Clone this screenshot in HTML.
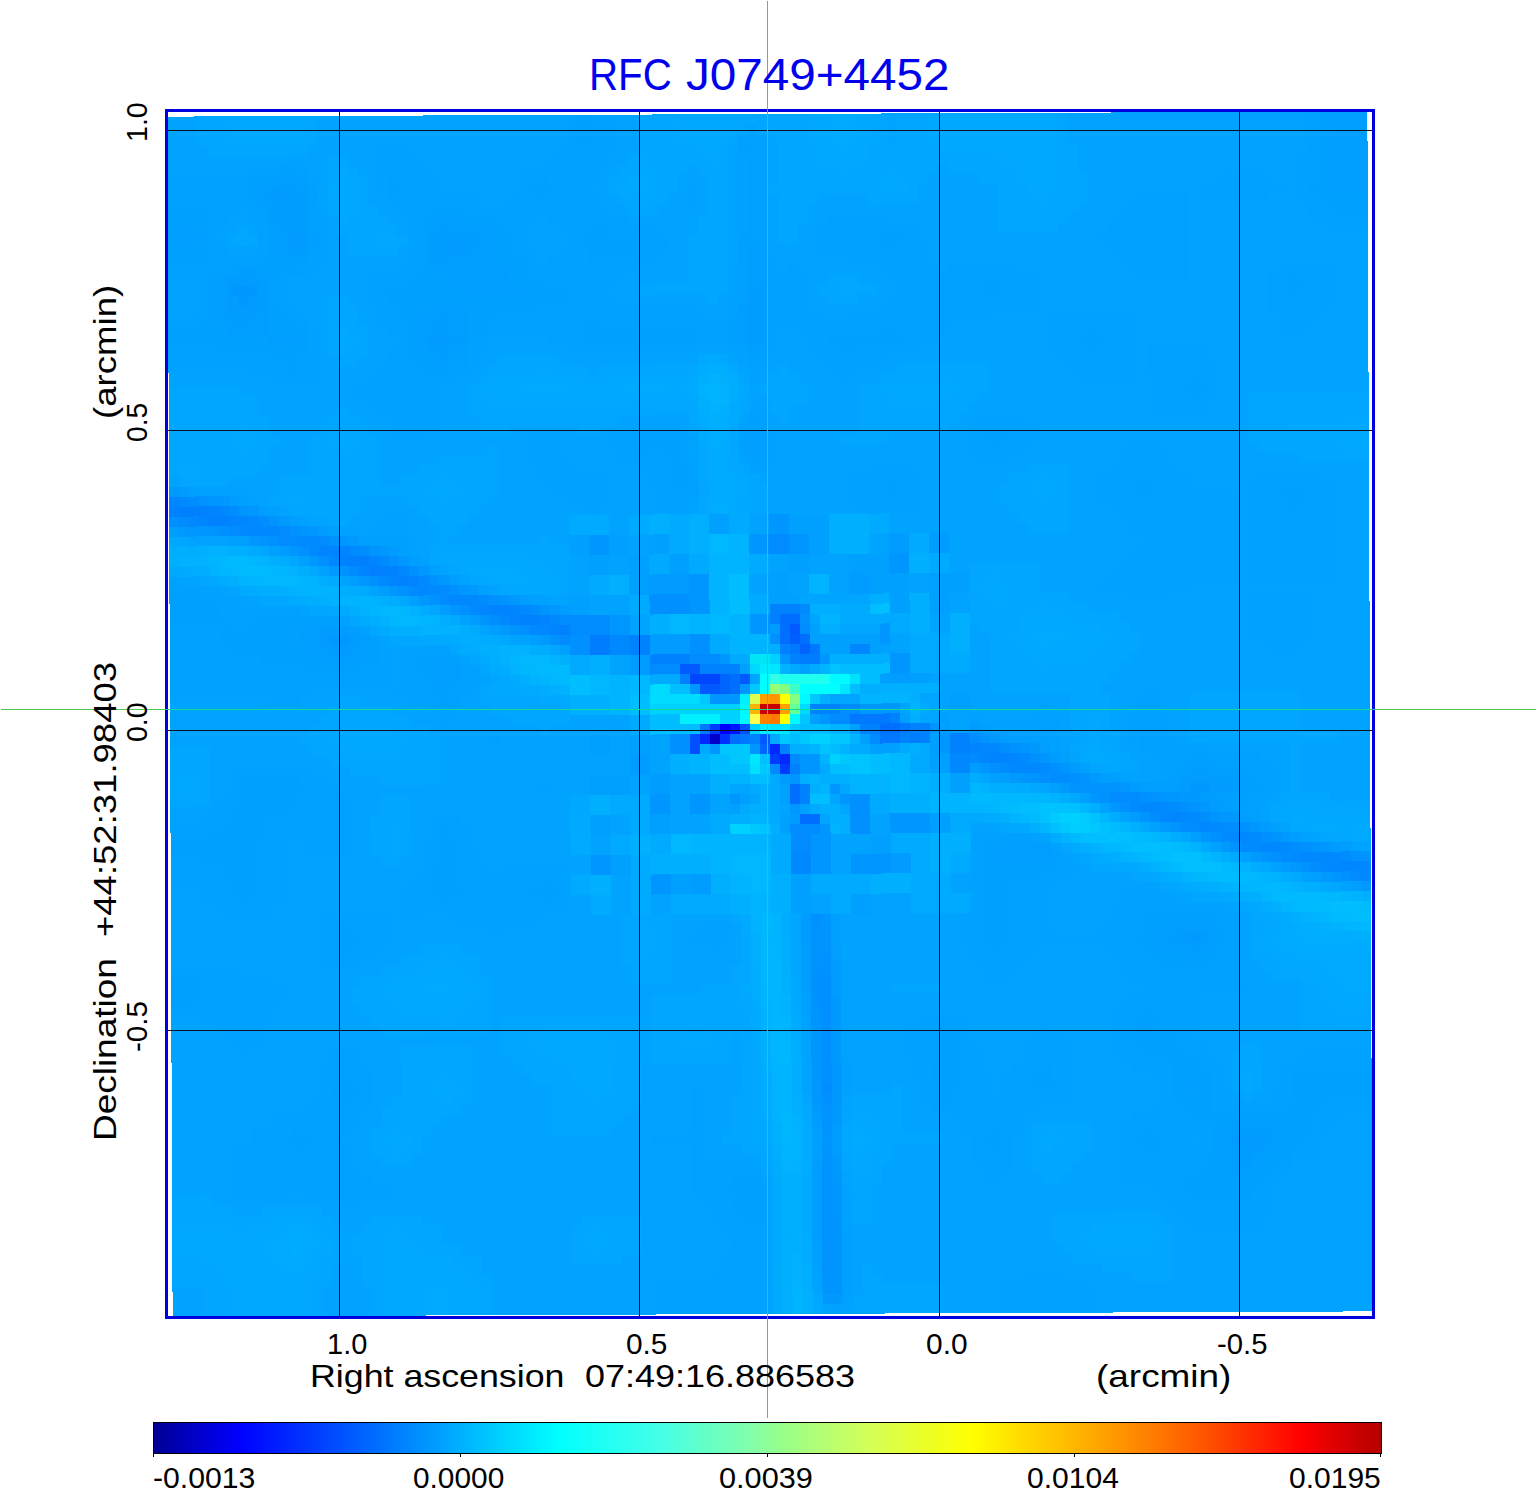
<!DOCTYPE html>
<html><head><meta charset="utf-8"><style>
html,body{margin:0;padding:0;background:#fff;width:1536px;height:1511px;overflow:hidden;}
body{position:relative;font-family:"Liberation Sans",sans-serif;}
.t{position:absolute;white-space:pre;line-height:1;color:#000;transform-origin:0 0;}
.g{position:absolute;background:#0a0f1e;}
</style></head><body>

<div style="position:absolute;left:165px;top:109px;width:1204px;height:1204px;border:3px solid #0000dc;background:#fff;overflow:hidden;">
<svg width="1204" height="1204" style="position:absolute;left:0;top:0" shape-rendering="crispEdges">
<g transform="rotate(-0.25 602 602)">
<rect x="2" y="2" width="1200" height="1200" fill="#00a4ff"/>
<path fill="#00a6ff" d="M32 2h30v10h-30zM142 2h10v10h-10zM472 2h40v10h-40zM592 2h50v10h-50zM712 2h10v10h-10zM732 2h30v10h-30zM892 2h10v10h-10zM32 12h30v10h-30zM142 12h10v10h-10zM472 12h40v10h-40zM572 12h10v10h-10zM592 12h50v10h-50zM712 12h10v10h-10zM732 12h30v10h-30zM892 12h10v10h-10zM32 22h30v10h-30zM142 22h10v10h-10zM472 22h40v10h-40zM562 22h10v10h-10zM612 22h30v10h-30zM712 22h10v10h-10zM732 22h30v10h-30zM892 22h10v10h-10zM42 32h100v10h-100zM472 32h60v10h-60zM552 32h10v10h-10zM612 32h40v10h-40zM702 32h70v10h-70zM892 32h20v10h-20zM162 42h20v10h-20zM462 42h10v10h-10zM482 42h60v10h-60zM552 42h10v10h-10zM612 42h40v10h-40zM702 42h130v10h-130zM892 42h20v10h-20zM162 52h10v10h-10zM182 52h10v10h-10zM452 52h20v10h-20zM492 52h30v10h-30zM532 52h30v10h-30zM612 52h60v10h-60zM682 52h90v10h-90zM782 52h70v10h-70zM892 52h20v10h-20zM162 62h10v10h-10zM192 62h10v10h-10zM442 62h20v10h-20zM492 62h20v10h-20zM542 62h20v10h-20zM612 62h100v10h-100zM732 62h30v10h-30zM812 62h40v10h-40zM892 62h30v10h-30zM192 72h10v10h-10zM442 72h10v10h-10zM492 72h20v10h-20zM542 72h20v10h-20zM602 72h110v10h-110zM742 72h10v10h-10zM832 72h30v10h-30zM892 72h30v10h-30zM162 82h10v10h-10zM192 82h10v10h-10zM452 82h20v10h-20zM482 82h20v10h-20zM542 82h20v10h-20zM612 82h40v10h-40zM702 82h50v10h-50zM832 82h40v10h-40zM882 82h40v10h-40zM162 92h10v10h-10zM192 92h20v10h-20zM462 92h30v10h-30zM542 92h20v10h-20zM612 92h30v10h-30zM832 92h80v10h-80zM182 102h40v10h-40zM532 102h30v10h-30zM612 102h30v10h-30zM832 102h70v10h-70zM72 112h10v10h-10zM172 112h60v10h-60zM532 112h30v10h-30zM612 112h20v10h-20zM832 112h60v10h-60zM62 122h10v10h-10zM82 122h10v10h-10zM182 122h30v10h-30zM232 122h10v10h-10zM522 122h40v10h-40zM612 122h20v10h-20zM182 132h50v10h-50zM522 132h40v10h-40zM522 142h40v10h-40zM522 152h40v10h-40zM522 162h40v10h-40zM662 162h30v10h-30zM472 172h90v10h-90zM652 172h20v10h-20zM692 172h20v10h-20zM162 182h20v10h-20zM542 182h10v10h-10zM662 182h30v10h-30zM162 192h30v10h-30zM162 202h30v10h-30zM162 212h10v10h-10zM182 212h20v10h-20zM162 222h10v10h-10zM192 222h10v10h-10zM162 232h10v10h-10zM182 232h20v10h-20zM172 242h20v10h-20zM332 242h60v10h-60zM322 252h50v10h-50zM382 252h40v10h-40zM432 252h90v10h-90zM612 252h10v10h-10zM732 252h90v10h-90zM312 262h10v10h-10zM412 262h30v10h-30zM572 262h10v10h-10zM602 262h30v10h-30zM712 262h60v10h-60zM782 262h40v10h-40zM2 272h70v10h-70zM302 272h10v10h-10zM592 272h50v10h-50zM692 272h20v10h-20zM792 272h30v10h-30zM2 282h90v10h-90zM302 282h20v10h-20zM572 282h10v10h-10zM602 282h40v10h-40zM692 282h30v10h-30zM782 282h30v10h-30zM1082 282h120v10h-120zM2 292h90v10h-90zM172 292h10v10h-10zM302 292h220v10h-220zM572 292h10v10h-10zM602 292h20v10h-20zM692 292h110v10h-110zM1082 292h120v10h-120zM2 302h100v10h-100zM162 302h30v10h-30zM312 302h140v10h-140zM612 302h10v10h-10zM692 302h100v10h-100zM1082 302h120v10h-120zM2 312h70v10h-70zM82 312h20v10h-20zM152 312h20v10h-20zM182 312h20v10h-20zM312 312h30v10h-30zM412 312h20v10h-20zM522 312h10v10h-10zM692 312h90v10h-90zM1082 312h40v10h-40zM2 322h60v10h-60zM92 322h20v10h-20zM142 322h20v10h-20zM192 322h20v10h-20zM562 322h10v10h-10zM672 322h50v10h-50zM1082 322h30v10h-30zM2 332h70v10h-70zM82 332h20v10h-20zM142 332h30v10h-30zM182 332h30v10h-30zM322 332h10v10h-10zM562 332h10v10h-10zM1092 332h80v10h-80zM2 342h100v10h-100zM142 342h70v10h-70zM272 342h60v10h-60zM1132 342h70v10h-70zM2 352h10v10h-10zM32 352h60v10h-60zM142 352h70v10h-70zM252 352h80v10h-80zM572 352h10v10h-10zM862 352h40v10h-40zM12 362h50v10h-50zM112 362h100v10h-100zM232 362h40v10h-40zM282 362h50v10h-50zM582 362h10v10h-10zM842 362h30v10h-30zM882 362h20v10h-20zM112 372h150v10h-150zM292 372h40v10h-40zM532 372h10v10h-10zM582 372h20v10h-20zM832 372h30v10h-30zM892 372h10v10h-10zM102 382h20v10h-20zM132 382h60v10h-60zM242 382h30v10h-30zM282 382h40v10h-40zM582 382h20v10h-20zM832 382h40v10h-40zM882 382h20v10h-20zM122 392h70v10h-70zM252 392h60v10h-60zM582 392h20v10h-20zM842 392h60v10h-60zM162 402h20v10h-20zM262 402h40v10h-40zM852 402h50v10h-50zM272 412h20v10h-20zM862 412h40v10h-40zM12 422h10v10h-10zM272 422h10v10h-10zM372 422h10v10h-10zM92 432h10v10h-10zM262 432h140v10h-140zM122 442h10v10h-10zM262 442h10v10h-10zM362 442h40v10h-40zM282 452h10v10h-10zM382 452h20v10h-20zM802 452h70v10h-70zM32 462h10v10h-10zM302 462h10v10h-10zM392 462h10v10h-10zM802 462h20v10h-20zM832 462h40v10h-40zM62 472h10v10h-10zM332 472h10v10h-10zM392 472h10v10h-10zM802 472h10v10h-10zM842 472h30v10h-30zM92 482h20v10h-20zM802 482h20v10h-20zM842 482h60v10h-60zM142 492h20v10h-20zM262 492h10v10h-10zM802 492h70v10h-70zM882 492h40v10h-40zM182 502h10v10h-10zM802 502h50v10h-50zM902 502h50v10h-50zM202 512h10v10h-10zM812 512h40v10h-40zM932 512h30v10h-30zM222 522h30v10h-30zM822 522h20v10h-20zM942 522h30v10h-30zM282 532h10v10h-10zM382 532h10v10h-10zM822 532h30v10h-30zM932 532h40v10h-40zM302 542h10v10h-10zM822 542h40v10h-40zM922 542h40v10h-40zM312 552h10v10h-10zM822 552h50v10h-50zM882 552h70v10h-70zM322 562h10v10h-10zM822 562h120v10h-120zM312 572h10v10h-10zM822 572h110v10h-110zM172 582h20v10h-20zM312 582h60v10h-60zM902 582h40v10h-40zM1022 582h110v10h-110zM162 592h60v10h-60zM322 592h80v10h-80zM902 592h40v10h-40zM1022 592h110v10h-110zM152 602h90v10h-90zM342 602h60v10h-60zM902 602h20v10h-20zM932 602h10v10h-10zM1022 602h110v10h-110zM142 612h30v10h-30zM222 612h40v10h-40zM372 612h10v10h-10zM902 612h20v10h-20zM932 612h10v10h-10zM1022 612h110v10h-110zM132 622h30v10h-30zM242 622h30v10h-30zM912 622h10v10h-10zM932 622h20v10h-20zM1022 622h150v10h-150zM2 632h40v10h-40zM142 632h30v10h-30zM232 632h40v10h-40zM902 632h10v10h-10zM942 632h10v10h-10zM1122 632h10v10h-10zM2 642h40v10h-40zM162 642h110v10h-110zM952 642h10v10h-10zM1122 642h10v10h-10zM2 652h40v10h-40zM182 652h90v10h-90zM922 652h20v10h-20zM952 652h20v10h-20zM1122 652h10v10h-10zM32 662h10v10h-10zM212 662h60v10h-60zM812 662h10v10h-10zM1122 662h10v10h-10zM32 672h10v10h-10zM872 672h10v10h-10zM1122 672h10v10h-10zM2 682h40v10h-40zM212 682h30v10h-30zM1112 682h50v10h-50zM212 692h30v10h-30zM1102 692h20v10h-20zM1152 692h50v10h-50zM202 702h40v10h-40zM1102 702h10v10h-10zM202 712h20v10h-20zM232 712h10v10h-10zM832 712h10v10h-10zM202 722h20v10h-20zM232 722h10v10h-10zM1012 722h10v10h-10zM1152 722h10v10h-10zM202 732h20v10h-20zM232 732h10v10h-10zM892 732h10v10h-10zM212 742h20v10h-20zM912 742h10v10h-10zM922 752h20v10h-20zM962 762h20v10h-20zM992 772h20v10h-20zM1162 772h10v10h-10zM1022 782h30v10h-30zM1072 792h10v10h-10zM452 802h50v10h-50zM562 802h10v10h-10zM622 802h10v10h-10zM1082 802h10v10h-10zM452 812h20v10h-20zM482 812h20v10h-20zM622 812h10v10h-10zM1082 812h20v10h-20zM452 822h20v10h-20zM482 822h20v10h-20zM622 822h10v10h-10zM1082 822h10v10h-10zM252 832h40v10h-40zM452 832h20v10h-20zM482 832h20v10h-20zM622 832h10v10h-10zM1082 832h10v10h-10zM232 842h40v10h-40zM282 842h30v10h-30zM452 842h50v10h-50zM622 842h10v10h-10zM1082 842h20v10h-20zM212 852h40v10h-40zM292 852h20v10h-20zM462 852h40v10h-40zM562 852h10v10h-10zM622 852h10v10h-10zM1092 852h20v10h-20zM192 862h30v10h-30zM302 862h20v10h-20zM462 862h40v10h-40zM562 862h10v10h-10zM1102 862h30v10h-30zM182 872h30v10h-30zM312 872h10v10h-10zM532 872h40v10h-40zM722 872h50v10h-50zM1132 872h20v10h-20zM182 882h40v10h-40zM302 882h20v10h-20zM482 882h90v10h-90zM1132 882h20v10h-20zM192 892h40v10h-40zM292 892h30v10h-30zM482 892h90v10h-90zM1132 892h30v10h-30zM202 902h70v10h-70zM282 902h40v10h-40zM332 902h140v10h-140zM482 902h100v10h-100zM1132 902h70v10h-70zM212 912h110v10h-110zM332 912h40v10h-40zM432 912h40v10h-40zM482 912h40v10h-40zM532 912h50v10h-50zM1132 912h70v10h-70zM332 922h30v10h-30zM442 922h30v10h-30zM482 922h30v10h-30zM542 922h20v10h-20zM572 922h10v10h-10zM232 932h70v10h-70zM332 932h40v10h-40zM442 932h30v10h-30zM482 932h80v10h-80zM572 932h10v10h-10zM1072 932h20v10h-20zM232 942h70v10h-70zM342 942h40v10h-40zM442 942h30v10h-30zM482 942h80v10h-80zM572 942h10v10h-10zM1062 942h30v10h-30zM232 952h70v10h-70zM352 952h50v10h-50zM442 952h30v10h-30zM572 952h10v10h-10zM1062 952h30v10h-30zM232 962h40v10h-40zM282 962h20v10h-20zM362 962h40v10h-40zM442 962h30v10h-30zM572 962h10v10h-10zM1062 962h10v10h-10zM1082 962h10v10h-10zM232 972h30v10h-30zM292 972h10v10h-10zM382 972h30v10h-30zM442 972h30v10h-30zM572 972h10v10h-10zM722 972h10v10h-10zM1062 972h10v10h-10zM1082 972h10v10h-10zM222 982h50v10h-50zM282 982h20v10h-20zM382 982h40v10h-40zM432 982h40v10h-40zM562 982h20v10h-20zM632 982h10v10h-10zM682 982h50v10h-50zM1072 982h10v10h-10zM212 992h80v10h-80zM382 992h80v10h-80zM562 992h20v10h-20zM682 992h50v10h-50zM212 1002h60v10h-60zM382 1002h70v10h-70zM562 1002h20v10h-20zM672 1002h10v10h-10zM702 1002h30v10h-30zM202 1012h20v10h-20zM232 1012h30v10h-30zM382 1012h60v10h-60zM562 1012h20v10h-20zM712 1012h20v10h-20zM862 1012h60v10h-60zM202 1022h10v10h-10zM242 1022h10v10h-10zM552 1022h30v10h-30zM712 1022h60v10h-60zM862 1022h10v10h-10zM892 1022h30v10h-30zM202 1032h20v10h-20zM232 1032h20v10h-20zM572 1032h20v10h-20zM712 1032h10v10h-10zM862 1032h10v10h-10zM882 1032h40v10h-40zM212 1042h30v10h-30zM592 1042h10v10h-10zM672 1042h10v10h-10zM702 1042h20v10h-20zM862 1042h50v10h-50zM592 1052h10v10h-10zM672 1052h10v10h-10zM702 1052h10v10h-10zM862 1052h40v10h-40zM682 1062h30v10h-30zM872 1062h20v10h-20zM682 1072h20v10h-20zM2 1082h40v10h-40zM682 1082h20v10h-20zM2 1092h60v10h-60zM92 1092h60v10h-60zM682 1092h20v10h-20zM2 1102h100v10h-100zM142 1102h20v10h-20zM202 1102h50v10h-50zM412 1102h60v10h-60zM682 1102h20v10h-20zM882 1102h110v10h-110zM62 1112h20v10h-20zM152 1112h20v10h-20zM192 1112h30v10h-30zM232 1112h40v10h-40zM402 1112h20v10h-20zM432 1112h40v10h-40zM882 1112h40v10h-40zM982 1112h20v10h-20zM162 1122h10v10h-10zM182 1122h30v10h-30zM242 1122h30v10h-30zM402 1122h10v10h-10zM442 1122h30v10h-30zM882 1122h30v10h-30zM992 1122h10v10h-10zM162 1132h10v10h-10zM182 1132h30v10h-30zM252 1132h40v10h-40zM402 1132h20v10h-20zM432 1132h40v10h-40zM892 1132h30v10h-30zM982 1132h20v10h-20zM2 1142h30v10h-30zM152 1142h20v10h-20zM192 1142h20v10h-20zM282 1142h30v10h-30zM402 1142h50v10h-50zM902 1142h100v10h-100zM2 1152h50v10h-50zM152 1152h10v10h-10zM192 1152h20v10h-20zM292 1152h20v10h-20zM692 1152h10v10h-10zM932 1152h70v10h-70zM2 1162h50v10h-50zM142 1162h20v10h-20zM192 1162h20v10h-20zM302 1162h20v10h-20zM692 1162h20v10h-20zM962 1162h40v10h-40zM32 1172h30v10h-30zM142 1172h10v10h-10zM202 1172h10v10h-10zM312 1172h10v10h-10zM692 1172h80v10h-80zM32 1182h30v10h-30zM142 1182h10v10h-10zM202 1182h10v10h-10zM312 1182h10v10h-10zM642 1182h10v10h-10zM682 1182h90v10h-90zM32 1192h30v10h-30zM142 1192h10v10h-10zM202 1192h10v10h-10zM312 1192h10v10h-10zM682 1192h90v10h-90z"/>
<path fill="#00a8ff" d="M62 2h80v10h-80zM512 2h80v10h-80zM642 2h20v10h-20zM692 2h20v10h-20zM762 2h130v10h-130zM62 12h80v10h-80zM512 12h60v10h-60zM642 12h20v10h-20zM692 12h20v10h-20zM762 12h130v10h-130zM62 22h80v10h-80zM512 22h50v10h-50zM642 22h20v10h-20zM692 22h20v10h-20zM762 22h130v10h-130zM532 32h20v10h-20zM652 32h20v10h-20zM682 32h20v10h-20zM772 32h120v10h-120zM472 42h10v10h-10zM542 42h10v10h-10zM652 42h50v10h-50zM832 42h60v10h-60zM172 52h10v10h-10zM472 52h20v10h-20zM672 52h10v10h-10zM852 52h40v10h-40zM172 62h20v10h-20zM462 62h10v10h-10zM482 62h10v10h-10zM712 62h20v10h-20zM852 62h40v10h-40zM162 72h10v10h-10zM182 72h10v10h-10zM452 72h20v10h-20zM482 72h10v10h-10zM712 72h30v10h-30zM862 72h30v10h-30zM172 82h20v10h-20zM472 82h10v10h-10zM872 82h10v10h-10zM172 92h20v10h-20zM172 102h10v10h-10zM72 122h10v10h-10zM212 122h20v10h-20zM672 172h20v10h-20zM172 212h10v10h-10zM172 222h20v10h-20zM172 232h10v10h-10zM532 242h10v10h-10zM552 242h10v10h-10zM372 252h10v10h-10zM522 252h10v10h-10zM562 252h10v10h-10zM322 262h90v10h-90zM442 262h80v10h-80zM772 262h10v10h-10zM312 272h40v10h-40zM402 272h50v10h-50zM502 272h10v10h-10zM572 272h10v10h-10zM712 272h80v10h-80zM322 282h200v10h-200zM722 282h60v10h-60zM522 292h10v10h-10zM522 302h10v10h-10zM72 312h10v10h-10zM172 312h10v10h-10zM562 312h10v10h-10zM1122 312h80v10h-80zM62 322h30v10h-30zM162 322h30v10h-30zM1112 322h90v10h-90zM72 332h10v10h-10zM172 332h10v10h-10zM532 332h10v10h-10zM1172 332h30v10h-30zM532 342h10v10h-10zM562 342h10v10h-10zM12 352h20v10h-20zM532 352h10v10h-10zM562 352h10v10h-10zM272 362h10v10h-10zM532 362h10v10h-10zM572 362h10v10h-10zM872 362h10v10h-10zM262 372h30v10h-30zM862 372h30v10h-30zM122 382h10v10h-10zM272 382h10v10h-10zM532 382h10v10h-10zM572 382h10v10h-10zM872 382h10v10h-10zM532 392h10v10h-10zM572 392h10v10h-10zM2 422h10v10h-10zM272 442h90v10h-90zM2 452h10v10h-10zM142 452h10v10h-10zM292 452h10v10h-10zM352 452h30v10h-30zM42 462h10v10h-10zM312 462h10v10h-10zM362 462h30v10h-30zM822 462h10v10h-10zM342 472h50v10h-50zM812 472h30v10h-30zM112 482h10v10h-10zM232 482h10v10h-10zM822 482h20v10h-20zM162 492h10v10h-10zM872 492h10v10h-10zM852 502h50v10h-50zM852 512h80v10h-80zM252 522h20v10h-20zM332 522h10v10h-10zM842 522h20v10h-20zM902 522h40v10h-40zM852 532h20v10h-20zM882 532h50v10h-50zM862 542h60v10h-60zM872 552h10v10h-10zM332 562h10v10h-10zM322 572h30v10h-30zM372 582h20v10h-20zM922 602h10v10h-10zM172 612h50v10h-50zM922 612h10v10h-10zM162 622h80v10h-80zM922 622h10v10h-10zM172 632h60v10h-60zM912 632h10v10h-10zM932 632h10v10h-10zM912 642h10v10h-10zM942 642h10v10h-10zM942 652h10v10h-10zM2 662h30v10h-30zM2 672h30v10h-30zM862 672h10v10h-10zM402 682h20v10h-20zM902 682h10v10h-10zM402 692h20v10h-20zM1122 692h30v10h-30zM1112 702h10v10h-10zM1142 702h60v10h-60zM222 712h10v10h-10zM842 712h10v10h-10zM972 712h10v10h-10zM1122 712h20v10h-20zM1172 712h10v10h-10zM222 722h10v10h-10zM1162 722h20v10h-20zM222 732h10v10h-10zM1062 742h10v10h-10zM942 752h20v10h-20zM1092 752h10v10h-10zM982 762h10v10h-10zM1122 762h10v10h-10zM1052 782h10v10h-10zM1082 792h10v10h-10zM1092 802h10v10h-10zM472 812h10v10h-10zM1102 812h10v10h-10zM472 822h10v10h-10zM572 822h10v10h-10zM1092 822h10v10h-10zM472 832h10v10h-10zM572 832h10v10h-10zM1092 832h20v10h-20zM272 842h10v10h-10zM572 842h10v10h-10zM1102 842h20v10h-20zM252 852h40v10h-40zM572 852h10v10h-10zM1112 852h40v10h-40zM222 862h80v10h-80zM572 862h10v10h-10zM622 862h10v10h-10zM1132 862h30v10h-30zM212 872h40v10h-40zM282 872h30v10h-30zM622 872h10v10h-10zM1152 872h20v10h-20zM222 882h80v10h-80zM572 882h10v10h-10zM622 882h10v10h-10zM1152 882h50v10h-50zM232 892h60v10h-60zM572 892h10v10h-10zM1162 892h40v10h-40zM272 902h10v10h-10zM372 912h60v10h-60zM522 912h10v10h-10zM362 922h80v10h-80zM512 922h30v10h-30zM372 932h70v10h-70zM582 932h10v10h-10zM382 942h60v10h-60zM582 942h10v10h-10zM402 952h40v10h-40zM582 952h10v10h-10zM272 962h10v10h-10zM402 962h40v10h-40zM582 962h10v10h-10zM1072 962h10v10h-10zM262 972h30v10h-30zM412 972h30v10h-30zM582 972h10v10h-10zM1072 972h10v10h-10zM272 982h10v10h-10zM422 982h10v10h-10zM582 982h10v10h-10zM582 992h10v10h-10zM632 992h10v10h-10zM582 1002h10v10h-10zM682 1002h20v10h-20zM222 1012h10v10h-10zM582 1012h10v10h-10zM672 1012h10v10h-10zM692 1012h20v10h-20zM212 1022h30v10h-30zM582 1022h10v10h-10zM672 1022h10v10h-10zM702 1022h10v10h-10zM872 1022h20v10h-20zM222 1032h10v10h-10zM592 1032h10v10h-10zM672 1032h10v10h-10zM692 1032h20v10h-20zM872 1032h10v10h-10zM682 1042h20v10h-20zM682 1052h20v10h-20zM602 1072h10v10h-10zM602 1082h10v10h-10zM602 1092h10v10h-10zM102 1102h40v10h-40zM602 1102h10v10h-10zM2 1112h60v10h-60zM82 1112h30v10h-30zM142 1112h10v10h-10zM222 1112h10v10h-10zM422 1112h10v10h-10zM602 1112h10v10h-10zM922 1112h60v10h-60zM2 1122h90v10h-90zM152 1122h10v10h-10zM212 1122h30v10h-30zM412 1122h30v10h-30zM602 1122h10v10h-10zM912 1122h80v10h-80zM2 1132h90v10h-90zM142 1132h20v10h-20zM212 1132h40v10h-40zM422 1132h10v10h-10zM602 1132h10v10h-10zM922 1132h60v10h-60zM32 1142h70v10h-70zM142 1142h10v10h-10zM212 1142h70v10h-70zM602 1142h10v10h-10zM52 1152h60v10h-60zM132 1152h20v10h-20zM212 1152h80v10h-80zM52 1162h90v10h-90zM212 1162h90v10h-90zM62 1172h80v10h-80zM212 1172h40v10h-40zM282 1172h30v10h-30zM62 1182h80v10h-80zM212 1182h40v10h-40zM282 1182h30v10h-30zM62 1192h80v10h-80zM212 1192h40v10h-40zM282 1192h30v10h-30zM642 1192h10v10h-10z"/>
<path fill="#00a2ff" d="M402 2h10v10h-10zM432 2h20v10h-20zM1142 2h10v10h-10zM402 12h10v10h-10zM432 12h20v10h-20zM1142 12h10v10h-10zM402 22h10v10h-10zM432 22h20v10h-20zM572 22h30v10h-30zM1142 22h10v10h-10zM212 32h30v10h-30zM392 32h30v10h-30zM432 32h20v10h-20zM592 32h10v10h-10zM1142 32h10v10h-10zM122 42h10v10h-10zM212 42h40v10h-40zM382 42h60v10h-60zM572 42h10v10h-10zM592 42h10v10h-10zM1132 42h20v10h-20zM82 52h30v10h-30zM132 52h10v10h-10zM212 52h50v10h-50zM352 52h80v10h-80zM572 52h10v10h-10zM592 52h10v10h-10zM1132 52h20v10h-20zM2 62h80v10h-80zM142 62h10v10h-10zM212 62h10v10h-10zM232 62h40v10h-40zM352 62h20v10h-20zM382 62h50v10h-50zM572 62h10v10h-10zM592 62h10v10h-10zM1052 62h50v10h-50zM1132 62h20v10h-20zM2 72h50v10h-50zM212 72h10v10h-10zM242 72h30v10h-30zM352 72h10v10h-10zM392 72h30v10h-30zM522 72h10v10h-10zM572 72h10v10h-10zM592 72h10v10h-10zM1032 72h90v10h-90zM1132 72h10v10h-10zM2 82h80v10h-80zM222 82h90v10h-90zM342 82h30v10h-30zM382 82h50v10h-50zM522 82h10v10h-10zM572 82h10v10h-10zM592 82h10v10h-10zM972 82h50v10h-50zM1032 82h70v10h-70zM1132 82h20v10h-20zM42 92h30v10h-30zM82 92h10v10h-10zM152 92h10v10h-10zM232 92h30v10h-30zM302 92h140v10h-140zM572 92h10v10h-10zM592 92h10v10h-10zM962 92h60v10h-60zM1142 92h20v10h-20zM42 102h20v10h-20zM82 102h10v10h-10zM152 102h10v10h-10zM242 102h10v10h-10zM332 102h40v10h-40zM382 102h80v10h-80zM572 102h10v10h-10zM592 102h10v10h-10zM662 102h60v10h-60zM952 102h70v10h-70zM1142 102h30v10h-30zM42 112h10v10h-10zM92 112h10v10h-10zM152 112h10v10h-10zM242 112h10v10h-10zM342 112h20v10h-20zM392 112h30v10h-30zM442 112h50v10h-50zM572 112h10v10h-10zM592 112h10v10h-10zM652 112h100v10h-100zM942 112h80v10h-80zM1162 112h40v10h-40zM42 122h10v10h-10zM92 122h10v10h-10zM242 122h10v10h-10zM352 122h10v10h-10zM402 122h10v10h-10zM482 122h20v10h-20zM592 122h10v10h-10zM652 122h20v10h-20zM742 122h10v10h-10zM932 122h90v10h-90zM42 132h20v10h-20zM92 132h10v10h-10zM152 132h10v10h-10zM242 132h10v10h-10zM352 132h20v10h-20zM392 132h30v10h-30zM472 132h30v10h-30zM652 132h60v10h-60zM732 132h30v10h-30zM942 132h80v10h-80zM42 142h50v10h-50zM142 142h20v10h-20zM242 142h10v10h-10zM362 142h10v10h-10zM382 142h40v10h-40zM432 142h60v10h-60zM602 142h10v10h-10zM682 142h80v10h-80zM952 142h70v10h-70zM2 152h40v10h-40zM132 152h20v10h-20zM232 152h20v10h-20zM362 152h110v10h-110zM562 152h10v10h-10zM602 152h10v10h-10zM622 152h10v10h-10zM712 152h60v10h-60zM782 152h70v10h-70zM962 152h60v10h-60zM1112 152h60v10h-60zM32 162h10v10h-10zM112 162h10v10h-10zM202 162h40v10h-40zM382 162h70v10h-70zM562 162h10v10h-10zM602 162h40v10h-40zM722 162h100v10h-100zM832 162h40v10h-40zM972 162h50v10h-50zM1102 162h20v10h-20zM1132 162h40v10h-40zM32 172h10v10h-10zM112 172h10v10h-10zM202 172h10v10h-10zM402 172h40v10h-40zM562 172h10v10h-10zM612 172h10v10h-10zM632 172h10v10h-10zM732 172h70v10h-70zM842 172h30v10h-30zM1102 172h10v10h-10zM1142 172h30v10h-30zM32 182h10v10h-10zM112 182h10v10h-10zM202 182h20v10h-20zM402 182h50v10h-50zM562 182h10v10h-10zM602 182h40v10h-40zM722 182h100v10h-100zM832 182h40v10h-40zM1102 182h20v10h-20zM1132 182h40v10h-40zM32 192h10v10h-10zM122 192h10v10h-10zM212 192h20v10h-20zM372 192h160v10h-160zM562 192h10v10h-10zM602 192h40v10h-40zM712 192h160v10h-160zM1102 192h60v10h-60zM2 202h30v10h-30zM132 202h10v10h-10zM212 202h20v10h-20zM332 202h80v10h-80zM432 202h110v10h-110zM602 202h60v10h-60zM682 202h140v10h-140zM882 202h90v10h-90zM1112 202h40v10h-40zM142 212h10v10h-10zM222 212h20v10h-20zM322 212h90v10h-90zM532 212h30v10h-30zM602 212h10v10h-10zM632 212h80v10h-80zM732 212h50v10h-50zM882 212h40v10h-40zM932 212h40v10h-40zM1112 212h30v10h-30zM142 222h10v10h-10zM232 222h10v10h-10zM312 222h10v10h-10zM382 222h30v10h-30zM532 222h30v10h-30zM602 222h10v10h-10zM642 222h20v10h-20zM742 222h30v10h-30zM882 222h30v10h-30zM942 222h30v10h-30zM2 232h50v10h-50zM142 232h10v10h-10zM222 232h20v10h-20zM302 232h20v10h-20zM402 232h130v10h-130zM562 232h10v10h-10zM602 232h10v10h-10zM642 232h30v10h-30zM692 232h60v10h-60zM882 232h40v10h-40zM932 232h40v10h-40zM982 232h60v10h-60zM2 242h100v10h-100zM132 242h20v10h-20zM222 242h20v10h-20zM302 242h10v10h-10zM572 242h10v10h-10zM592 242h10v10h-10zM652 242h70v10h-70zM892 242h80v10h-80zM982 242h60v10h-60zM82 252h40v10h-40zM132 252h20v10h-20zM212 252h40v10h-40zM282 252h20v10h-20zM582 252h20v10h-20zM662 252h30v10h-30zM902 252h70v10h-70zM982 252h70v10h-70zM102 262h50v10h-50zM202 262h90v10h-90zM582 262h10v10h-10zM672 262h10v10h-10zM912 262h60v10h-60zM982 262h40v10h-40zM1032 262h20v10h-20zM182 272h90v10h-90zM982 272h30v10h-30zM1042 272h10v10h-10zM202 282h70v10h-70zM982 282h40v10h-40zM1032 282h20v10h-20zM212 292h60v10h-60zM582 292h20v10h-20zM982 292h60v10h-60zM222 302h50v10h-50zM592 302h10v10h-10zM812 302h40v10h-40zM222 312h50v10h-50zM462 312h50v10h-50zM572 312h10v10h-10zM802 312h20v10h-20zM832 312h40v10h-40zM362 322h30v10h-30zM442 322h20v10h-20zM512 322h10v10h-10zM602 322h10v10h-10zM802 322h10v10h-10zM842 322h30v10h-30zM362 332h30v10h-30zM452 332h20v10h-20zM512 332h10v10h-10zM602 332h10v10h-10zM802 332h20v10h-20zM832 332h30v10h-30zM962 332h30v10h-30zM362 342h40v10h-40zM452 342h50v10h-50zM512 342h20v10h-20zM572 342h10v10h-10zM602 342h10v10h-10zM812 342h30v10h-30zM952 342h50v10h-50zM372 352h40v10h-40zM472 352h30v10h-30zM522 352h10v10h-10zM582 352h20v10h-20zM702 352h40v10h-40zM942 352h70v10h-70zM372 362h70v10h-70zM482 362h20v10h-20zM522 362h10v10h-10zM682 362h40v10h-40zM732 362h20v10h-20zM932 362h40v10h-40zM982 362h40v10h-40zM1092 362h60v10h-60zM32 372h50v10h-50zM382 372h60v10h-60zM492 372h10v10h-10zM682 372h30v10h-30zM742 372h10v10h-10zM932 372h30v10h-30zM992 372h30v10h-30zM1082 372h30v10h-30zM1142 372h30v10h-30zM82 382h10v10h-10zM402 382h40v10h-40zM492 382h40v10h-40zM682 382h40v10h-40zM732 382h20v10h-20zM932 382h40v10h-40zM982 382h90v10h-90zM1082 382h30v10h-30zM1142 382h30v10h-30zM422 392h10v10h-10zM492 392h30v10h-30zM692 392h60v10h-60zM942 392h130v10h-130zM1082 392h40v10h-40zM1132 392h40v10h-40zM132 402h10v10h-10zM212 402h30v10h-30zM952 402h120v10h-120zM1082 402h90v10h-90zM172 412h20v10h-20zM202 412h40v10h-40zM962 412h110v10h-110zM1082 412h90v10h-90zM242 422h10v10h-10zM982 422h90v10h-90zM1082 422h90v10h-90zM242 432h10v10h-10zM972 432h100v10h-100zM1082 432h90v10h-90zM252 442h10v10h-10zM962 442h110v10h-110zM1082 442h90v10h-90zM152 452h10v10h-10zM952 452h120v10h-120zM1082 452h90v10h-90zM2 462h20v10h-20zM292 462h10v10h-10zM942 462h130v10h-130zM1082 462h90v10h-90zM32 472h20v10h-20zM932 472h90v10h-90zM52 482h20v10h-20zM372 482h10v10h-10zM962 482h40v10h-40zM1082 482h60v10h-60zM52 492h80v10h-80zM1082 492h60v10h-60zM62 502h20v10h-20zM172 502h10v10h-10zM292 502h10v10h-10zM1082 502h60v10h-60zM2 512h50v10h-50zM192 512h10v10h-10zM1082 512h60v10h-60zM2 522h50v10h-50zM352 522h10v10h-10zM1082 522h60v10h-60zM2 532h60v10h-60zM212 532h10v10h-10zM232 532h50v10h-50zM1102 532h30v10h-30zM2 542h90v10h-90zM212 542h10v10h-10zM232 542h10v10h-10zM2 552h130v10h-130zM192 552h30v10h-30zM232 552h10v10h-10zM302 552h10v10h-10zM2 562h220v10h-220zM232 562h20v10h-20zM292 562h20v10h-20zM2 572h140v10h-140zM222 572h40v10h-40zM282 572h20v10h-20zM102 582h30v10h-30zM242 582h30v10h-30zM282 582h10v10h-10zM972 582h20v10h-20zM262 592h30v10h-30zM872 592h10v10h-10zM962 592h30v10h-30zM272 602h10v10h-10zM802 602h10v10h-10zM862 602h30v10h-30zM962 602h40v10h-40zM822 612h50v10h-50zM882 612h10v10h-10zM962 612h10v10h-10zM982 612h20v10h-20zM322 622h10v10h-10zM882 622h10v10h-10zM962 622h10v10h-10zM982 622h20v10h-20zM882 632h10v10h-10zM972 632h70v10h-70zM982 642h40v10h-40zM1042 642h50v10h-50zM62 652h80v10h-80zM992 652h10v10h-10zM1082 652h20v10h-20zM62 662h10v10h-10zM132 662h30v10h-30zM952 662h10v10h-10zM992 662h10v10h-10zM1092 662h20v10h-20zM62 672h10v10h-10zM142 672h30v10h-30zM372 672h10v10h-10zM1102 672h10v10h-10zM52 682h20v10h-20zM132 682h50v10h-50zM1082 682h20v10h-20zM42 692h20v10h-20zM122 692h60v10h-60zM932 692h10v10h-10zM1082 692h10v10h-10zM32 702h30v10h-30zM102 702h80v10h-80zM262 702h30v10h-30zM2 712h40v10h-40zM102 712h80v10h-80zM262 712h10v10h-10zM282 712h20v10h-20zM982 712h10v10h-10zM92 722h30v10h-30zM132 722h50v10h-50zM262 722h10v10h-10zM292 722h10v10h-10zM802 722h10v10h-10zM862 722h10v10h-10zM1132 722h10v10h-10zM92 732h30v10h-30zM132 732h50v10h-50zM252 732h20v10h-20zM292 732h20v10h-20zM802 732h10v10h-10zM882 732h10v10h-10zM1042 732h10v10h-10zM1182 732h10v10h-10zM2 742h30v10h-30zM92 742h30v10h-30zM252 742h20v10h-20zM292 742h20v10h-20zM802 742h10v10h-10zM892 742h10v10h-10zM2 752h50v10h-50zM92 752h30v10h-30zM252 752h10v10h-10zM292 752h30v10h-30zM332 752h70v10h-70zM802 752h10v10h-10zM892 752h20v10h-20zM1102 752h10v10h-10zM2 762h50v10h-50zM92 762h30v10h-30zM242 762h20v10h-20zM292 762h80v10h-80zM382 762h20v10h-20zM802 762h10v10h-10zM872 762h30v10h-30zM1132 762h10v10h-10zM32 772h30v10h-30zM92 772h30v10h-30zM232 772h30v10h-30zM302 772h50v10h-50zM392 772h10v10h-10zM802 772h10v10h-10zM842 772h40v10h-40zM972 772h10v10h-10zM1172 772h10v10h-10zM32 782h40v10h-40zM82 782h40v10h-40zM232 782h40v10h-40zM282 782h90v10h-90zM382 782h20v10h-20zM802 782h10v10h-10zM842 782h40v10h-40zM952 782h50v10h-50zM52 792h50v10h-50zM232 792h170v10h-170zM802 792h10v10h-10zM842 792h40v10h-40zM942 792h110v10h-110zM152 802h70v10h-70zM282 802h90v10h-90zM792 802h20v10h-20zM842 802h40v10h-40zM942 802h30v10h-30zM1052 802h20v10h-20zM152 812h20v10h-20zM182 812h40v10h-40zM322 812h10v10h-10zM532 812h30v10h-30zM792 812h20v10h-20zM842 812h40v10h-40zM932 812h40v10h-40zM1052 812h20v10h-20zM152 822h10v10h-10zM192 822h30v10h-30zM522 822h40v10h-40zM792 822h20v10h-20zM842 822h120v10h-120zM1062 822h10v10h-10zM152 832h20v10h-20zM182 832h30v10h-30zM542 832h10v10h-10zM802 832h20v10h-20zM832 832h40v10h-40zM932 832h40v10h-40zM1052 832h20v10h-20zM152 842h40v10h-40zM802 842h60v10h-60zM942 842h40v10h-40zM1052 842h20v10h-20zM2 852h70v10h-70zM672 852h10v10h-10zM812 852h40v10h-40zM952 852h40v10h-40zM1042 852h30v10h-30zM32 862h70v10h-70zM672 862h10v10h-10zM812 862h30v10h-30zM962 862h110v10h-110zM52 872h70v10h-70zM672 872h10v10h-10zM972 872h110v10h-110zM32 882h80v10h-80zM672 882h10v10h-10zM962 882h70v10h-70zM2 892h100v10h-100zM672 892h10v10h-10zM952 892h20v10h-20zM982 892h50v10h-50zM32 902h70v10h-70zM632 902h10v10h-10zM672 902h10v10h-10zM752 902h50v10h-50zM942 902h20v10h-20zM992 902h40v10h-40zM52 912h40v10h-40zM632 912h10v10h-10zM672 912h10v10h-10zM732 912h40v10h-40zM782 912h20v10h-20zM872 912h10v10h-10zM942 912h20v10h-20zM1002 912h30v10h-30zM62 922h30v10h-30zM672 922h10v10h-10zM732 922h30v10h-30zM792 922h10v10h-10zM862 922h30v10h-30zM942 922h10v10h-10zM1012 922h10v10h-10zM72 932h10v10h-10zM162 932h30v10h-30zM672 932h10v10h-10zM732 932h30v10h-30zM792 932h20v10h-20zM852 932h50v10h-50zM942 932h20v10h-20zM1012 932h30v10h-30zM162 942h30v10h-30zM672 942h10v10h-10zM742 942h20v10h-20zM792 942h20v10h-20zM852 942h50v10h-50zM952 942h20v10h-20zM1032 942h10v10h-10zM1132 942h70v10h-70zM152 952h50v10h-50zM672 952h10v10h-10zM742 952h20v10h-20zM792 952h20v10h-20zM842 952h30v10h-30zM882 952h20v10h-20zM962 952h40v10h-40zM1032 952h20v10h-20zM1112 952h90v10h-90zM152 962h20v10h-20zM182 962h20v10h-20zM672 962h10v10h-10zM742 962h20v10h-20zM792 962h30v10h-30zM832 962h30v10h-30zM882 962h20v10h-20zM982 962h20v10h-20zM1042 962h10v10h-10zM1112 962h10v10h-10zM152 972h10v10h-10zM192 972h10v10h-10zM522 972h10v10h-10zM672 972h10v10h-10zM752 972h20v10h-20zM792 972h30v10h-30zM832 972h30v10h-30zM892 972h10v10h-10zM992 972h10v10h-10zM1042 972h10v10h-10zM1112 972h10v10h-10zM142 982h30v10h-30zM182 982h20v10h-20zM522 982h10v10h-10zM752 982h20v10h-20zM782 982h120v10h-120zM992 982h10v10h-10zM1042 982h20v10h-20zM1102 982h20v10h-20zM132 992h60v10h-60zM522 992h10v10h-10zM762 992h110v10h-110zM982 992h30v10h-30zM1042 992h70v10h-70zM1152 992h50v10h-50zM102 1002h90v10h-90zM522 1002h10v10h-10zM782 1002h70v10h-70zM962 1002h60v10h-60zM1142 1002h30v10h-30zM82 1012h40v10h-40zM132 1012h50v10h-50zM522 1012h10v10h-10zM792 1012h30v10h-30zM832 1012h20v10h-20zM952 1012h20v10h-20zM982 1012h60v10h-60zM1142 1012h20v10h-20zM82 1022h30v10h-30zM142 1022h30v10h-30zM482 1022h50v10h-50zM802 1022h10v10h-10zM832 1022h10v10h-10zM952 1022h10v10h-10zM992 1022h30v10h-30zM1032 1022h10v10h-10zM1142 1022h10v10h-10zM62 1032h60v10h-60zM132 1032h50v10h-50zM522 1032h10v10h-10zM802 1032h20v10h-20zM832 1032h10v10h-10zM952 1032h20v10h-20zM992 1032h50v10h-50zM1132 1032h20v10h-20zM62 1042h120v10h-120zM522 1042h10v10h-10zM802 1042h40v10h-40zM952 1042h80v10h-80zM1122 1042h30v10h-30zM62 1052h130v10h-130zM522 1052h70v10h-70zM812 1052h30v10h-30zM952 1052h80v10h-80zM1112 1052h10v10h-10zM62 1062h140v10h-140zM522 1062h40v10h-40zM812 1062h20v10h-20zM952 1062h60v10h-60zM1102 1062h10v10h-10zM62 1072h60v10h-60zM132 1072h90v10h-90zM522 1072h30v10h-30zM592 1072h10v10h-10zM982 1072h30v10h-30zM1092 1072h10v10h-10zM172 1082h20v10h-20zM532 1082h30v10h-30zM592 1082h10v10h-10zM672 1082h10v10h-10zM992 1082h30v10h-30zM1082 1082h20v10h-20zM542 1092h20v10h-20zM592 1092h10v10h-10zM672 1092h10v10h-10zM1002 1092h100v10h-100zM542 1102h30v10h-30zM592 1102h10v10h-10zM672 1102h10v10h-10zM1012 1102h80v10h-80zM552 1112h40v10h-40zM672 1112h10v10h-10zM1022 1112h70v10h-70zM562 1122h30v10h-30zM562 1132h30v10h-30zM552 1142h40v10h-40zM552 1152h40v10h-40zM642 1152h10v10h-10zM542 1162h50v10h-50zM642 1162h10v10h-10zM852 1162h40v10h-40zM482 1172h110v10h-110zM832 1172h90v10h-90zM482 1182h110v10h-110zM672 1182h10v10h-10zM832 1182h90v10h-90zM482 1192h110v10h-110zM662 1192h10v10h-10zM832 1192h90v10h-90z"/>
<path fill="#00a0ff" d="M412 2h20v10h-20zM1152 2h20v10h-20zM412 12h20v10h-20zM1152 12h20v10h-20zM412 22h20v10h-20zM1152 22h20v10h-20zM422 32h10v10h-10zM572 32h20v10h-20zM1152 32h20v10h-20zM582 42h10v10h-10zM1152 42h20v10h-20zM112 52h20v10h-20zM582 52h10v10h-10zM1152 52h20v10h-20zM82 62h30v10h-30zM132 62h10v10h-10zM222 62h10v10h-10zM372 62h10v10h-10zM582 62h10v10h-10zM1152 62h20v10h-20zM52 72h40v10h-40zM142 72h10v10h-10zM222 72h20v10h-20zM362 72h30v10h-30zM582 72h10v10h-10zM1142 72h30v10h-30zM82 82h10v10h-10zM142 82h10v10h-10zM372 82h10v10h-10zM582 82h10v10h-10zM1152 82h50v10h-50zM2 92h40v10h-40zM92 92h10v10h-10zM142 92h10v10h-10zM262 92h40v10h-40zM582 92h10v10h-10zM1162 92h40v10h-40zM2 102h40v10h-40zM92 102h10v10h-10zM142 102h10v10h-10zM252 102h20v10h-20zM292 102h40v10h-40zM582 102h10v10h-10zM1172 102h30v10h-30zM32 112h10v10h-10zM102 112h10v10h-10zM142 112h10v10h-10zM252 112h10v10h-10zM322 112h20v10h-20zM422 112h20v10h-20zM582 112h10v10h-10zM32 122h10v10h-10zM102 122h10v10h-10zM142 122h20v10h-20zM252 122h10v10h-10zM332 122h20v10h-20zM412 122h70v10h-70zM572 122h20v10h-20zM672 122h70v10h-70zM2 132h40v10h-40zM102 132h10v10h-10zM142 132h10v10h-10zM252 132h10v10h-10zM332 132h20v10h-20zM422 132h50v10h-50zM572 132h10v10h-10zM592 132h10v10h-10zM712 132h20v10h-20zM2 142h40v10h-40zM92 142h50v10h-50zM252 142h10v10h-10zM332 142h30v10h-30zM422 142h10v10h-10zM572 142h10v10h-10zM592 142h10v10h-10zM42 152h30v10h-30zM92 152h40v10h-40zM252 152h20v10h-20zM342 152h20v10h-20zM572 152h10v10h-10zM592 152h10v10h-10zM42 162h10v10h-10zM102 162h10v10h-10zM242 162h40v10h-40zM342 162h40v10h-40zM572 162h10v10h-10zM592 162h10v10h-10zM822 162h10v10h-10zM1122 162h10v10h-10zM42 172h10v10h-10zM102 172h10v10h-10zM212 172h90v10h-90zM352 172h50v10h-50zM572 172h10v10h-10zM602 172h10v10h-10zM622 172h10v10h-10zM802 172h40v10h-40zM1112 172h30v10h-30zM42 182h10v10h-10zM102 182h10v10h-10zM222 182h180v10h-180zM572 182h10v10h-10zM822 182h10v10h-10zM1122 182h10v10h-10zM42 192h10v10h-10zM102 192h20v10h-20zM232 192h30v10h-30zM302 192h70v10h-70zM32 202h20v10h-20zM102 202h30v10h-30zM232 202h20v10h-20zM302 202h30v10h-30zM412 202h20v10h-20zM562 202h10v10h-10zM2 212h60v10h-60zM102 212h40v10h-40zM242 212h10v10h-10zM302 212h20v10h-20zM412 212h120v10h-120zM562 212h10v10h-10zM712 212h20v10h-20zM922 212h10v10h-10zM2 222h100v10h-100zM132 222h10v10h-10zM242 222h10v10h-10zM302 222h10v10h-10zM412 222h120v10h-120zM562 222h10v10h-10zM662 222h80v10h-80zM912 222h30v10h-30zM52 232h90v10h-90zM242 232h20v10h-20zM292 232h10v10h-10zM572 232h10v10h-10zM592 232h10v10h-10zM672 232h20v10h-20zM922 232h10v10h-10zM102 242h30v10h-30zM242 242h30v10h-30zM282 242h20v10h-20zM582 242h10v10h-10zM122 252h10v10h-10zM252 252h30v10h-30zM1022 262h10v10h-10zM1012 272h30v10h-30zM1022 282h10v10h-10zM582 302h10v10h-10zM582 312h20v10h-20zM822 312h10v10h-10zM462 322h50v10h-50zM572 322h10v10h-10zM592 322h10v10h-10zM812 322h30v10h-30zM472 332h40v10h-40zM572 332h10v10h-10zM592 332h10v10h-10zM822 332h10v10h-10zM502 342h10v10h-10zM582 342h20v10h-20zM502 352h20v10h-20zM502 362h20v10h-20zM722 362h10v10h-10zM972 362h10v10h-10zM22 372h10v10h-10zM502 372h30v10h-30zM712 372h30v10h-30zM962 372h30v10h-30zM1112 372h30v10h-30zM72 382h10v10h-10zM722 382h10v10h-10zM972 382h10v10h-10zM1112 382h30v10h-30zM102 392h10v10h-10zM1122 392h10v10h-10zM542 402h20v10h-20zM622 402h40v10h-40zM162 412h10v10h-10zM542 412h20v10h-20zM622 412h40v10h-40zM62 422h10v10h-10zM202 422h40v10h-40zM402 422h20v10h-20zM442 422h20v10h-20zM482 422h20v10h-20zM642 422h20v10h-20zM102 432h10v10h-10zM232 432h10v10h-10zM402 432h20v10h-20zM442 432h20v10h-20zM482 432h20v10h-20zM642 432h20v10h-20zM132 442h10v10h-10zM422 442h20v10h-20zM462 442h20v10h-20zM502 442h20v10h-20zM622 442h20v10h-20zM682 442h40v10h-40zM262 452h10v10h-10zM422 452h20v10h-20zM462 452h20v10h-20zM502 452h20v10h-20zM622 452h20v10h-20zM682 452h40v10h-40zM462 462h20v10h-20zM602 462h20v10h-20zM702 462h40v10h-40zM762 462h40v10h-40zM2 472h30v10h-30zM312 472h10v10h-10zM462 472h20v10h-20zM602 472h20v10h-20zM702 472h40v10h-40zM762 472h40v10h-40zM2 482h50v10h-50zM242 482h10v10h-10zM362 482h10v10h-10zM402 482h20v10h-20zM602 482h30v10h-30zM722 482h20v10h-20zM762 482h20v10h-20zM2 492h50v10h-50zM402 492h20v10h-20zM722 492h20v10h-20zM762 492h20v10h-20zM2 502h60v10h-60zM82 502h90v10h-90zM52 512h80v10h-80zM642 512h10v10h-10zM52 522h80v10h-80zM202 522h10v10h-10zM642 522h70v10h-70zM62 532h80v10h-80zM202 532h10v10h-10zM392 532h10v10h-10zM652 532h30v10h-30zM702 532h20v10h-20zM92 542h60v10h-60zM192 542h20v10h-20zM242 542h20v10h-20zM282 542h10v10h-10zM132 552h60v10h-60zM242 552h20v10h-20zM292 552h10v10h-10zM572 552h10v10h-10zM632 552h10v10h-10zM252 562h20v10h-20zM282 562h10v10h-10zM712 562h10v10h-10zM742 562h20v10h-20zM262 572h20v10h-20zM272 582h10v10h-10zM782 582h20v10h-20zM782 592h20v10h-20zM642 602h10v10h-10zM732 602h10v10h-10zM772 602h10v10h-10zM682 612h10v10h-10zM772 612h10v10h-10zM812 612h10v10h-10zM872 612h10v10h-10zM972 612h10v10h-10zM422 622h20v10h-20zM462 622h20v10h-20zM692 622h10v10h-10zM762 622h10v10h-10zM862 622h20v10h-20zM972 622h10v10h-10zM422 632h20v10h-20zM462 632h20v10h-20zM702 632h30v10h-30zM762 632h10v10h-10zM762 642h20v10h-20zM892 642h10v10h-10zM1022 642h20v10h-20zM762 652h20v10h-20zM912 652h10v10h-10zM1002 652h20v10h-20zM1042 652h40v10h-40zM72 662h60v10h-60zM422 662h40v10h-40zM782 662h20v10h-20zM822 662h10v10h-10zM942 662h10v10h-10zM1002 662h10v10h-10zM1072 662h20v10h-20zM72 672h70v10h-70zM422 672h40v10h-40zM612 672h10v10h-10zM782 672h20v10h-20zM882 672h10v10h-10zM982 672h10v10h-10zM1082 672h20v10h-20zM72 682h60v10h-60zM572 682h10v10h-10zM612 682h10v10h-10zM912 682h10v10h-10zM1062 682h20v10h-20zM62 692h60v10h-60zM562 692h10v10h-10zM632 692h10v10h-10zM1062 692h20v10h-20zM62 702h40v10h-40zM422 702h20v10h-20zM482 702h20v10h-20zM612 702h10v10h-10zM762 702h20v10h-20zM1082 702h10v10h-10zM42 712h60v10h-60zM272 712h10v10h-10zM422 712h20v10h-20zM482 712h20v10h-20zM612 712h10v10h-10zM762 712h20v10h-20zM1102 712h10v10h-10zM2 722h90v10h-90zM272 722h20v10h-20zM702 722h20v10h-20zM812 722h50v10h-50zM2 732h90v10h-90zM272 732h20v10h-20zM702 732h20v10h-20zM812 732h20v10h-20zM32 742h60v10h-60zM272 742h20v10h-20zM442 742h20v10h-20zM812 742h20v10h-20zM882 742h10v10h-10zM1072 742h10v10h-10zM52 752h40v10h-40zM262 752h30v10h-30zM442 752h20v10h-20zM812 752h80v10h-80zM52 762h40v10h-40zM262 762h30v10h-30zM372 762h10v10h-10zM502 762h20v10h-20zM622 762h20v10h-20zM812 762h60v10h-60zM62 772h30v10h-30zM262 772h40v10h-40zM352 772h40v10h-40zM502 772h20v10h-20zM622 772h20v10h-20zM812 772h30v10h-30zM72 782h10v10h-10zM272 782h10v10h-10zM372 782h10v10h-10zM622 782h20v10h-20zM682 782h20v10h-20zM812 782h30v10h-30zM622 792h20v10h-20zM682 792h20v10h-20zM812 792h30v10h-30zM662 802h10v10h-10zM812 802h30v10h-30zM972 802h80v10h-80zM172 812h10v10h-10zM662 812h10v10h-10zM812 812h30v10h-30zM972 812h30v10h-30zM1042 812h10v10h-10zM162 822h30v10h-30zM662 822h10v10h-10zM812 822h30v10h-30zM962 822h20v10h-20zM1052 822h10v10h-10zM172 832h10v10h-10zM822 832h10v10h-10zM972 832h20v10h-20zM1042 832h10v10h-10zM982 842h30v10h-30zM1032 842h20v10h-20zM992 852h50v10h-50zM2 862h30v10h-30zM2 872h50v10h-50zM2 882h30v10h-30zM632 882h10v10h-10zM632 892h10v10h-10zM972 892h10v10h-10zM962 902h30v10h-30zM772 912h10v10h-10zM962 912h10v10h-10zM982 912h20v10h-20zM762 922h30v10h-30zM952 922h20v10h-20zM982 922h30v10h-30zM762 932h30v10h-30zM962 932h50v10h-50zM762 942h30v10h-30zM972 942h60v10h-60zM762 952h30v10h-30zM872 952h10v10h-10zM1002 952h30v10h-30zM172 962h10v10h-10zM762 962h30v10h-30zM862 962h20v10h-20zM1002 962h40v10h-40zM1122 962h80v10h-80zM162 972h30v10h-30zM772 972h20v10h-20zM862 972h30v10h-30zM1002 972h20v10h-20zM1032 972h10v10h-10zM1122 972h80v10h-80zM172 982h10v10h-10zM772 982h10v10h-10zM1002 982h40v10h-40zM1122 982h80v10h-80zM1012 992h30v10h-30zM1112 992h40v10h-40zM1022 1002h120v10h-120zM122 1012h10v10h-10zM822 1012h10v10h-10zM972 1012h10v10h-10zM1042 1012h20v10h-20zM1102 1012h40v10h-40zM112 1022h30v10h-30zM642 1022h10v10h-10zM812 1022h20v10h-20zM962 1022h30v10h-30zM1042 1022h10v10h-10zM1112 1022h30v10h-30zM122 1032h10v10h-10zM642 1032h10v10h-10zM822 1032h10v10h-10zM972 1032h20v10h-20zM1042 1032h10v10h-10zM1102 1032h30v10h-30zM1032 1042h20v10h-20zM1092 1042h30v10h-30zM1032 1052h30v10h-30zM1082 1052h30v10h-30zM562 1062h30v10h-30zM1012 1062h90v10h-90zM552 1072h40v10h-40zM1012 1072h80v10h-80zM562 1082h30v10h-30zM1022 1082h60v10h-60zM562 1092h30v10h-30zM572 1102h20v10h-20zM672 1122h10v10h-10zM642 1132h10v10h-10zM672 1132h10v10h-10zM642 1142h10v10h-10zM672 1142h10v10h-10zM672 1152h10v10h-10zM672 1162h10v10h-10zM672 1172h10v10h-10z"/>
<path fill="#00aaff" d="M662 2h30v10h-30zM662 12h30v10h-30zM662 22h30v10h-30zM672 32h10v10h-10zM472 62h10v10h-10zM172 72h10v10h-10zM472 72h10v10h-10zM542 242h10v10h-10zM522 262h10v10h-10zM352 272h50v10h-50zM452 272h50v10h-50zM512 272h10v10h-10zM522 282h10v10h-10zM562 292h10v10h-10zM562 302h10v10h-10zM532 312h10v10h-10zM532 322h10v10h-10zM562 362h10v10h-10zM562 372h20v10h-20zM562 382h10v10h-10zM562 392h10v10h-10zM402 402h40v10h-40zM462 402h20v10h-20zM502 402h20v10h-20zM562 402h20v10h-20zM702 402h20v10h-20zM402 412h40v10h-40zM462 412h20v10h-20zM502 412h20v10h-20zM562 412h20v10h-20zM702 412h20v10h-20zM502 422h20v10h-20zM742 422h20v10h-20zM82 432h10v10h-10zM502 432h20v10h-20zM742 432h20v10h-20zM482 442h20v10h-20zM522 442h20v10h-20zM582 442h20v10h-20zM762 442h20v10h-20zM12 452h10v10h-10zM302 452h50v10h-50zM482 452h20v10h-20zM522 452h20v10h-20zM582 452h20v10h-20zM762 452h20v10h-20zM162 462h10v10h-10zM322 462h40v10h-40zM422 462h20v10h-20zM72 472h10v10h-10zM192 472h10v10h-10zM422 472h20v10h-20zM122 482h10v10h-10zM462 482h20v10h-20zM582 482h20v10h-20zM172 492h10v10h-10zM462 492h20v10h-20zM582 492h20v10h-20zM672 492h30v10h-30zM192 502h10v10h-10zM282 502h10v10h-10zM672 502h70v10h-70zM212 512h10v10h-10zM302 512h10v10h-10zM722 512h20v10h-20zM272 522h10v10h-10zM322 522h10v10h-10zM542 522h20v10h-20zM742 522h40v10h-40zM862 522h40v10h-40zM292 532h10v10h-10zM542 532h20v10h-20zM742 532h40v10h-40zM872 532h10v10h-10zM312 542h10v10h-10zM402 542h20v10h-20zM562 542h20v10h-20zM742 542h60v10h-60zM322 552h10v10h-10zM402 552h20v10h-20zM622 552h10v10h-10zM642 552h10v10h-10zM742 552h60v10h-60zM342 562h10v10h-10zM482 562h30v10h-30zM352 572h20v10h-20zM392 582h10v10h-10zM752 592h10v10h-10zM462 602h20v10h-20zM462 612h20v10h-20zM602 622h10v10h-10zM532 632h10v10h-10zM682 632h20v10h-20zM732 632h10v10h-10zM752 632h10v10h-10zM922 632h10v10h-10zM742 642h20v10h-20zM922 642h20v10h-20zM652 652h10v10h-10zM742 652h20v10h-20zM602 662h10v10h-10zM582 672h10v10h-10zM602 672h10v10h-10zM442 682h40v10h-40zM602 682h10v10h-10zM702 682h20v10h-20zM442 692h40v10h-40zM572 692h10v10h-10zM602 692h10v10h-10zM642 692h10v10h-10zM702 692h20v10h-20zM402 702h20v10h-20zM462 702h20v10h-20zM542 702h20v10h-20zM602 702h10v10h-10zM782 702h40v10h-40zM1122 702h20v10h-20zM402 712h20v10h-20zM462 712h20v10h-20zM542 712h20v10h-20zM782 712h20v10h-20zM852 712h10v10h-10zM1142 712h30v10h-30zM1182 712h20v10h-20zM402 722h20v10h-20zM442 722h20v10h-20zM482 722h20v10h-20zM602 722h20v10h-20zM722 722h40v10h-40zM1182 722h20v10h-20zM402 732h20v10h-20zM442 732h20v10h-20zM482 732h20v10h-20zM602 732h20v10h-20zM722 732h40v10h-40zM902 732h10v10h-10zM1032 732h10v10h-10zM462 742h20v10h-20zM602 742h20v10h-20zM742 742h20v10h-20zM782 742h20v10h-20zM922 742h10v10h-10zM462 752h20v10h-20zM602 752h20v10h-20zM742 752h20v10h-20zM782 752h20v10h-20zM962 752h10v10h-10zM402 762h20v10h-20zM462 762h20v10h-20zM642 762h60v10h-60zM742 762h40v10h-40zM402 772h20v10h-20zM462 772h20v10h-20zM642 772h60v10h-60zM742 772h40v10h-40zM1012 772h10v10h-10zM1152 772h10v10h-10zM422 782h20v10h-20zM462 782h20v10h-20zM502 782h60v10h-60zM662 782h20v10h-20zM742 782h60v10h-60zM1062 782h10v10h-10zM422 792h20v10h-20zM462 792h20v10h-20zM502 792h60v10h-60zM662 792h20v10h-20zM742 792h60v10h-60zM572 802h10v10h-10zM1102 802h10v10h-10zM572 812h10v10h-10zM1112 812h10v10h-10zM1102 822h10v10h-10zM1112 832h10v10h-10zM1122 842h80v10h-80zM1152 852h50v10h-50zM1162 862h40v10h-40zM252 872h30v10h-30zM572 872h10v10h-10zM1172 872h30v10h-30zM622 892h10v10h-10zM582 912h10v10h-10zM582 922h10v10h-10zM592 1002h10v10h-10zM632 1002h10v10h-10zM592 1012h10v10h-10zM682 1012h10v10h-10zM592 1022h10v10h-10zM682 1022h20v10h-20zM682 1032h10v10h-10zM602 1062h10v10h-10zM632 1062h10v10h-10zM632 1072h10v10h-10zM632 1082h10v10h-10zM632 1092h10v10h-10zM632 1102h10v10h-10zM112 1112h30v10h-30zM632 1112h10v10h-10zM92 1122h20v10h-20zM132 1122h20v10h-20zM92 1132h30v10h-30zM132 1132h10v10h-10zM102 1142h40v10h-40zM112 1152h20v10h-20zM602 1152h10v10h-10zM602 1162h10v10h-10zM252 1172h30v10h-30zM602 1172h10v10h-10zM252 1182h30v10h-30zM602 1182h10v10h-10zM252 1192h30v10h-30zM602 1192h10v10h-10z"/>
<path fill="#009eff" d="M1172 2h30v10h-30zM1172 12h30v10h-30zM1172 22h30v10h-30zM1172 32h30v10h-30zM1172 42h30v10h-30zM1172 52h30v10h-30zM112 62h20v10h-20zM1172 62h30v10h-30zM92 72h10v10h-10zM132 72h10v10h-10zM1172 72h30v10h-30zM92 82h20v10h-20zM132 82h10v10h-10zM102 92h10v10h-10zM132 92h10v10h-10zM102 102h10v10h-10zM132 102h10v10h-10zM272 102h20v10h-20zM2 112h30v10h-30zM112 112h10v10h-10zM132 112h10v10h-10zM262 112h10v10h-10zM282 112h40v10h-40zM2 122h30v10h-30zM112 122h10v10h-10zM262 122h10v10h-10zM312 122h20v10h-20zM112 132h10v10h-10zM132 132h10v10h-10zM262 132h10v10h-10zM302 132h30v10h-30zM582 132h10v10h-10zM262 142h10v10h-10zM282 142h50v10h-50zM582 142h10v10h-10zM72 152h20v10h-20zM272 152h70v10h-70zM582 152h10v10h-10zM52 162h10v10h-10zM92 162h10v10h-10zM282 162h60v10h-60zM582 162h10v10h-10zM52 172h10v10h-10zM92 172h10v10h-10zM302 172h50v10h-50zM582 172h20v10h-20zM52 182h10v10h-10zM92 182h10v10h-10zM592 182h10v10h-10zM52 192h10v10h-10zM92 192h10v10h-10zM262 192h40v10h-40zM572 192h10v10h-10zM592 192h10v10h-10zM52 202h20v10h-20zM82 202h20v10h-20zM252 202h20v10h-20zM282 202h20v10h-20zM572 202h10v10h-10zM592 202h10v10h-10zM62 212h40v10h-40zM252 212h20v10h-20zM282 212h20v10h-20zM572 212h10v10h-10zM592 212h10v10h-10zM102 222h30v10h-30zM252 222h10v10h-10zM292 222h10v10h-10zM572 222h10v10h-10zM592 222h10v10h-10zM262 232h10v10h-10zM282 232h10v10h-10zM582 232h10v10h-10zM272 242h10v10h-10zM582 322h10v10h-10zM582 332h10v10h-10zM92 392h10v10h-10zM122 402h10v10h-10zM2 412h10v10h-10zM72 422h10v10h-10zM192 422h10v10h-10zM242 442h10v10h-10zM182 462h10v10h-10zM282 462h10v10h-10zM212 472h10v10h-10zM272 492h10v10h-10zM132 512h20v10h-20zM182 512h10v10h-10zM322 512h10v10h-10zM132 522h20v10h-20zM192 522h10v10h-10zM362 522h10v10h-10zM142 532h20v10h-20zM182 532h20v10h-20zM152 542h40v10h-40zM262 542h20v10h-20zM262 552h30v10h-30zM272 562h10v10h-10zM842 622h20v10h-20zM872 632h10v10h-10zM1022 652h20v10h-20zM832 662h10v10h-10zM932 662h10v10h-10zM1012 662h10v10h-10zM1042 662h30v10h-30zM972 672h10v10h-10zM992 672h20v10h-20zM1062 672h20v10h-20zM1042 682h20v10h-20zM1052 692h10v10h-10zM1072 702h10v10h-10zM1022 722h10v10h-10zM1122 722h10v10h-10zM832 732h50v10h-50zM1172 732h10v10h-10zM832 742h50v10h-50zM1142 762h10v10h-10zM1182 772h10v10h-10zM1002 812h40v10h-40zM982 822h20v10h-20zM1042 822h10v10h-10zM632 832h10v10h-10zM662 832h10v10h-10zM992 832h30v10h-30zM1032 832h10v10h-10zM632 842h10v10h-10zM662 842h10v10h-10zM1012 842h20v10h-20zM632 852h10v10h-10zM632 862h10v10h-10zM632 872h10v10h-10zM972 912h10v10h-10zM972 922h10v10h-10zM1022 972h10v10h-10zM642 1012h10v10h-10zM1062 1012h40v10h-40zM1052 1022h10v10h-10zM1102 1022h10v10h-10zM1052 1032h20v10h-20zM1092 1032h10v10h-10zM642 1042h10v10h-10zM1052 1042h20v10h-20zM1082 1042h10v10h-10zM642 1052h10v10h-10zM1062 1052h20v10h-20zM642 1062h10v10h-10zM642 1072h10v10h-10zM642 1082h10v10h-10zM642 1092h10v10h-10zM642 1102h10v10h-10zM642 1112h10v10h-10zM642 1122h10v10h-10z"/>
<path fill="#009cff" d="M102 72h30v10h-30zM112 82h20v10h-20zM112 92h20v10h-20zM112 102h20v10h-20zM122 112h10v10h-10zM272 112h10v10h-10zM122 122h20v10h-20zM272 122h40v10h-40zM122 132h10v10h-10zM272 132h30v10h-30zM272 142h10v10h-10zM62 162h30v10h-30zM62 182h10v10h-10zM82 182h10v10h-10zM582 182h10v10h-10zM62 192h30v10h-30zM582 192h10v10h-10zM72 202h10v10h-10zM272 202h10v10h-10zM582 202h10v10h-10zM272 212h10v10h-10zM582 212h10v10h-10zM262 222h30v10h-30zM582 222h10v10h-10zM272 232h10v10h-10zM12 372h10v10h-10zM62 382h10v10h-10zM152 412h10v10h-10zM722 422h20v10h-20zM762 422h20v10h-20zM112 432h10v10h-10zM222 432h10v10h-10zM722 432h20v10h-20zM762 432h20v10h-20zM482 462h40v10h-40zM682 462h20v10h-20zM482 472h40v10h-40zM682 472h20v10h-20zM352 482h10v10h-10zM392 492h10v10h-10zM302 502h10v10h-10zM152 512h30v10h-30zM152 522h10v10h-10zM182 522h10v10h-10zM482 522h40v10h-40zM162 532h20v10h-20zM482 532h40v10h-40zM462 542h20v10h-20zM462 552h20v10h-20zM722 562h20v10h-20zM802 612h10v10h-10zM832 622h10v10h-10zM462 642h20v10h-20zM882 642h10v10h-10zM462 652h20v10h-20zM802 652h10v10h-10zM902 652h10v10h-10zM482 662h20v10h-20zM1022 662h20v10h-20zM482 672h20v10h-20zM962 672h10v10h-10zM1012 672h10v10h-10zM1042 672h20v10h-20zM1032 682h10v10h-10zM1042 692h10v10h-10zM962 702h10v10h-10zM1092 712h10v10h-10zM1162 732h10v10h-10zM722 742h20v10h-20zM722 752h20v10h-20zM1112 752h10v10h-10zM522 762h20v10h-20zM522 772h20v10h-20zM632 802h10v10h-10zM632 812h10v10h-10zM632 822h10v10h-10zM1002 822h20v10h-20zM1032 822h10v10h-10zM1022 832h10v10h-10zM662 852h10v10h-10zM662 862h10v10h-10zM662 872h10v10h-10zM642 1002h10v10h-10zM662 1012h10v10h-10zM662 1022h10v10h-10zM1062 1022h40v10h-40zM662 1032h10v10h-10zM1072 1032h20v10h-20zM1072 1042h10v10h-10z"/>
<path fill="#009aff" d="M62 172h10v10h-10zM82 172h10v10h-10zM72 182h10v10h-10zM2 372h10v10h-10zM112 402h10v10h-10zM12 412h10v10h-10zM182 422h10v10h-10zM162 452h10v10h-10zM272 462h10v10h-10zM302 472h10v10h-10zM332 512h10v10h-10zM162 522h20v10h-20zM372 522h10v10h-10zM862 632h10v10h-10zM842 662h10v10h-10zM922 662h10v10h-10zM892 672h10v10h-10zM1022 672h20v10h-20zM1012 682h20v10h-20zM1062 702h10v10h-10zM992 712h10v10h-10zM1112 722h10v10h-10zM1052 732h10v10h-10zM1082 742h10v10h-10zM1152 762h10v10h-10zM1192 772h10v10h-10zM1022 822h10v10h-10zM662 882h10v10h-10zM662 892h10v10h-10zM662 902h10v10h-10zM662 912h10v10h-10zM662 922h10v10h-10zM662 932h10v10h-10zM662 942h10v10h-10zM642 992h10v10h-10zM662 992h10v10h-10zM662 1002h10v10h-10zM662 1042h10v10h-10zM662 1052h10v10h-10zM652 1182h20v10h-20z"/>
<path fill="#0098ff" d="M72 172h10v10h-10zM52 382h10v10h-10zM82 392h10v10h-10zM22 412h10v10h-10zM142 412h10v10h-10zM82 422h10v10h-10zM212 432h10v10h-10zM142 442h10v10h-10zM232 442h10v10h-10zM252 452h10v10h-10zM192 462h10v10h-10zM222 472h10v10h-10zM252 482h10v10h-10zM342 482h10v10h-10zM382 492h10v10h-10zM822 622h10v10h-10zM952 672h10v10h-10zM922 682h10v10h-10zM1002 682h10v10h-10zM942 692h10v10h-10zM1032 692h10v10h-10zM1052 702h10v10h-10zM1082 712h10v10h-10zM1152 732h10v10h-10zM1122 752h10v10h-10zM662 952h10v10h-10zM662 962h10v10h-10zM642 972h10v10h-10zM662 972h10v10h-10zM642 982h10v10h-10zM662 982h10v10h-10zM662 1062h10v10h-10z"/>
<path fill="#00acff" d="M532 252h10v10h-10zM562 262h10v10h-10zM522 272h10v10h-10zM562 282h10v10h-10zM532 302h10v10h-10zM552 322h10v10h-10zM542 332h20v10h-20zM542 342h20v10h-20zM542 352h20v10h-20zM542 362h20v10h-20zM542 372h20v10h-20zM542 382h20v10h-20zM542 392h10v10h-10zM112 442h10v10h-10zM22 452h10v10h-10zM52 462h10v10h-10zM82 472h10v10h-10zM182 472h10v10h-10zM132 482h10v10h-10zM222 482h10v10h-10zM252 492h10v10h-10zM282 522h10v10h-10zM312 522h10v10h-10zM302 532h10v10h-10zM372 532h10v10h-10zM332 552h10v10h-10zM372 572h10v10h-10zM802 662h10v10h-10zM842 672h20v10h-20zM822 702h10v10h-10zM942 702h10v10h-10zM882 722h10v10h-10zM1002 722h10v10h-10zM932 742h10v10h-10zM1082 752h10v10h-10zM992 762h10v10h-10zM1112 762h10v10h-10zM1022 772h10v10h-10zM1092 792h10v10h-10zM612 802h10v10h-10zM1112 802h10v10h-10zM612 812h10v10h-10zM1122 812h10v10h-10zM1112 822h30v10h-30zM1122 832h80v10h-80zM582 882h10v10h-10zM582 892h10v10h-10zM582 902h10v10h-10zM622 902h10v10h-10zM622 912h10v10h-10zM592 962h10v10h-10zM592 972h10v10h-10zM592 982h10v10h-10zM592 992h10v10h-10zM632 1012h10v10h-10zM632 1022h10v10h-10zM632 1032h10v10h-10zM602 1042h10v10h-10zM632 1042h10v10h-10zM602 1052h10v10h-10zM632 1052h10v10h-10zM112 1122h20v10h-20zM632 1122h10v10h-10zM122 1132h10v10h-10zM632 1132h10v10h-10zM632 1142h10v10h-10z"/>
<path fill="#00aeff" d="M542 252h20v10h-20zM562 272h10v10h-10zM532 292h10v10h-10zM552 302h10v10h-10zM542 312h20v10h-20zM542 322h10v10h-10zM552 392h10v10h-10zM22 432h10v10h-10zM72 432h10v10h-10zM32 452h10v10h-10zM132 452h10v10h-10zM152 462h10v10h-10zM92 472h20v10h-20zM172 472h10v10h-10zM142 482h10v10h-10zM182 492h10v10h-10zM202 502h10v10h-10zM272 502h10v10h-10zM222 512h10v10h-10zM292 512h10v10h-10zM292 522h20v10h-20zM362 532h10v10h-10zM322 542h10v10h-10zM352 562h10v10h-10zM822 672h20v10h-20zM892 682h10v10h-10zM922 692h10v10h-10zM912 732h10v10h-10zM942 742h10v10h-10zM1052 742h10v10h-10zM972 752h10v10h-10zM1002 762h10v10h-10zM1032 772h10v10h-10zM1142 772h10v10h-10zM1072 782h10v10h-10zM1192 782h10v10h-10zM1132 812h20v10h-20zM612 822h10v10h-10zM1142 822h40v10h-40zM612 832h10v10h-10zM612 842h10v10h-10zM582 852h10v10h-10zM582 862h10v10h-10zM582 872h10v10h-10zM622 922h10v10h-10zM622 932h10v10h-10zM592 942h10v10h-10zM622 942h10v10h-10zM592 952h10v10h-10zM622 952h10v10h-10zM622 962h10v10h-10zM622 972h10v10h-10zM602 1032h10v10h-10zM612 1122h10v10h-10zM632 1152h10v10h-10zM632 1162h10v10h-10z"/>
<path fill="#00b0ff" d="M532 262h10v10h-10zM552 262h10v10h-10zM532 282h10v10h-10zM552 292h10v10h-10zM542 302h10v10h-10zM482 402h20v10h-20zM522 402h20v10h-20zM662 402h40v10h-40zM482 412h20v10h-20zM522 412h20v10h-20zM662 412h40v10h-40zM522 422h20v10h-20zM662 422h40v10h-40zM2 432h20v10h-20zM32 432h10v10h-10zM62 432h10v10h-10zM522 432h20v10h-20zM662 432h40v10h-40zM2 442h10v10h-10zM102 442h10v10h-10zM742 442h20v10h-20zM742 452h20v10h-20zM62 462h10v10h-10zM442 462h20v10h-20zM112 472h10v10h-10zM442 472h20v10h-20zM152 482h10v10h-10zM212 482h10v10h-10zM742 482h20v10h-20zM742 492h20v10h-20zM482 502h20v10h-20zM742 502h20v10h-20zM782 502h20v10h-20zM232 512h20v10h-20zM482 512h20v10h-20zM742 512h20v10h-20zM782 512h20v10h-20zM782 522h20v10h-20zM312 532h20v10h-20zM782 532h20v10h-20zM392 542h10v10h-10zM422 542h20v10h-20zM422 552h20v10h-20zM382 572h10v10h-10zM402 582h40v10h-40zM402 592h40v10h-40zM502 642h20v10h-20zM502 652h20v10h-20zM542 662h20v10h-20zM762 662h20v10h-20zM542 672h20v10h-20zM762 672h20v10h-20zM422 682h20v10h-20zM722 682h40v10h-40zM422 692h20v10h-20zM722 692h40v10h-40zM832 702h10v10h-10zM862 712h10v10h-10zM962 712h10v10h-10zM462 722h20v10h-20zM762 722h40v10h-40zM462 732h20v10h-20zM762 732h40v10h-40zM482 742h60v10h-60zM762 742h20v10h-20zM482 752h60v10h-60zM762 752h20v10h-20zM422 762h20v10h-20zM542 762h20v10h-20zM602 762h20v10h-20zM702 762h40v10h-40zM422 772h20v10h-20zM542 772h20v10h-20zM602 772h20v10h-20zM702 772h40v10h-40zM1042 772h10v10h-10zM1132 772h10v10h-10zM562 782h20v10h-20zM602 782h20v10h-20zM1082 782h10v10h-10zM562 792h20v10h-20zM602 792h20v10h-20zM1102 792h10v10h-10zM1122 802h10v10h-10zM1152 812h10v10h-10zM582 822h10v10h-10zM1182 822h20v10h-20zM582 832h10v10h-10zM582 842h10v10h-10zM612 852h10v10h-10zM612 862h10v10h-10zM612 872h10v10h-10zM592 922h10v10h-10zM592 932h10v10h-10zM622 982h10v10h-10zM622 992h10v10h-10zM602 1012h10v10h-10zM602 1022h10v10h-10zM612 1062h20v10h-20zM612 1072h20v10h-20zM612 1082h20v10h-20zM612 1092h20v10h-20zM612 1102h20v10h-20zM612 1112h20v10h-20zM622 1122h10v10h-10zM612 1132h20v10h-20zM612 1142h10v10h-10zM612 1152h10v10h-10zM612 1162h10v10h-10zM612 1172h10v10h-10zM632 1172h10v10h-10zM612 1182h10v10h-10zM632 1182h10v10h-10zM612 1192h10v10h-10zM632 1192h10v10h-10z"/>
<path fill="#00b2ff" d="M542 262h10v10h-10zM532 272h10v10h-10zM552 272h10v10h-10zM552 282h10v10h-10zM542 292h10v10h-10zM42 432h20v10h-20zM12 442h20v10h-20zM42 452h10v10h-10zM122 452h10v10h-10zM142 462h10v10h-10zM122 472h10v10h-10zM162 472h10v10h-10zM162 482h20v10h-20zM202 482h10v10h-10zM192 492h10v10h-10zM242 492h10v10h-10zM212 502h10v10h-10zM252 512h40v10h-40zM332 532h30v10h-30zM332 542h10v10h-10zM342 552h10v10h-10zM362 562h10v10h-10zM392 572h10v10h-10zM812 672h10v10h-10zM882 682h10v10h-10zM992 722h10v10h-10zM922 732h10v10h-10zM1022 732h10v10h-10zM952 742h10v10h-10zM982 752h10v10h-10zM1072 752h10v10h-10zM1012 762h10v10h-10zM1102 762h10v10h-10zM1052 772h10v10h-10zM1122 772h10v10h-10zM1182 782h10v10h-10zM582 802h10v10h-10zM1132 802h10v10h-10zM582 812h10v10h-10zM1162 812h10v10h-10zM612 882h10v10h-10zM592 892h10v10h-10zM612 892h10v10h-10zM592 902h10v10h-10zM592 912h10v10h-10zM602 972h10v10h-10zM602 982h10v10h-10zM602 992h10v10h-10zM602 1002h10v10h-10zM622 1002h10v10h-10zM622 1012h10v10h-10zM622 1042h10v10h-10zM612 1052h20v10h-20zM622 1142h10v10h-10zM622 1152h10v10h-10zM622 1162h10v10h-10z"/>
<path fill="#00b4ff" d="M542 272h10v10h-10zM542 282h10v10h-10zM562 422h20v10h-20zM562 432h20v10h-20zM32 442h10v10h-10zM92 442h10v10h-10zM542 442h40v10h-40zM542 452h40v10h-40zM72 462h10v10h-10zM132 462h10v10h-10zM542 462h20v10h-20zM642 462h20v10h-20zM132 472h30v10h-30zM542 472h20v10h-20zM642 472h20v10h-20zM182 482h20v10h-20zM542 482h20v10h-20zM542 492h20v10h-20zM262 502h10v10h-10zM522 502h20v10h-20zM562 502h20v10h-20zM652 502h20v10h-20zM522 512h20v10h-20zM562 512h20v10h-20zM562 522h40v10h-40zM562 532h40v10h-40zM382 542h10v10h-10zM612 552h10v10h-10zM652 552h10v10h-10zM372 562h10v10h-10zM442 562h20v10h-20zM442 572h20v10h-20zM442 582h20v10h-20zM692 582h50v10h-50zM442 592h20v10h-20zM742 592h10v10h-10zM662 612h20v10h-20zM682 622h10v10h-10zM642 632h10v10h-10zM672 632h10v10h-10zM522 642h20v10h-20zM652 642h10v10h-10zM522 652h20v10h-20zM562 662h20v10h-20zM642 662h10v10h-10zM682 662h40v10h-40zM742 662h20v10h-20zM652 672h10v10h-10zM682 672h40v10h-40zM742 672h20v10h-20zM762 682h40v10h-40zM762 692h60v10h-60zM582 702h20v10h-20zM842 702h10v10h-10zM662 712h10v10h-10zM522 722h80v10h-80zM892 722h10v10h-10zM522 732h80v10h-80zM542 742h20v10h-20zM962 742h10v10h-10zM1042 742h10v10h-10zM542 752h20v10h-20zM562 762h20v10h-20zM1092 762h10v10h-10zM562 772h20v10h-20zM1062 772h10v10h-10zM582 782h20v10h-20zM1092 782h10v10h-10zM1172 782h10v10h-10zM582 792h20v10h-20zM1112 792h10v10h-10zM602 802h10v10h-10zM1142 802h10v10h-10zM602 812h10v10h-10zM1172 812h10v10h-10zM602 822h10v10h-10zM592 872h10v10h-10zM592 882h10v10h-10zM612 902h10v10h-10zM612 912h10v10h-10zM602 952h20v10h-20zM602 962h20v10h-20zM612 972h10v10h-10zM612 982h10v10h-10zM612 992h10v10h-10zM622 1022h10v10h-10zM612 1032h20v10h-20zM612 1042h10v10h-10zM622 1172h10v10h-10zM622 1182h10v10h-10zM622 1192h10v10h-10z"/>
<path fill="#0086ff" d="M2 382h10v10h-10zM72 402h10v10h-10zM312 492h10v10h-10zM342 492h10v10h-10zM812 632h10v10h-10zM812 642h10v10h-10zM842 642h10v10h-10zM1002 702h10v10h-10zM1172 752h30v10h-30z"/>
<path fill="#008aff" d="M12 382h10v10h-10zM82 402h10v10h-10zM72 412h10v10h-10zM132 422h20v10h-20zM142 432h10v10h-10zM182 432h10v10h-10zM212 442h10v10h-10zM182 452h10v10h-10zM252 462h10v10h-10zM262 472h10v10h-10zM302 492h10v10h-10zM352 492h10v10h-10zM362 512h10v10h-10zM852 642h10v10h-10zM992 692h10v10h-10zM1022 702h10v10h-10zM1042 712h10v10h-10zM1082 722h10v10h-10zM1082 732h10v10h-10zM1112 732h10v10h-10zM1122 742h10v10h-10zM1162 742h10v10h-10zM1152 752h10v10h-10z"/>
<path fill="#008eff" d="M22 382h10v10h-10zM62 392h10v10h-10zM92 402h10v10h-10zM192 432h10v10h-10zM362 492h10v10h-10zM322 502h10v10h-10zM802 622h10v10h-10zM832 632h10v10h-10zM882 662h20v10h-20zM982 702h10v10h-10zM1032 702h10v10h-10zM1012 712h10v10h-10zM1062 712h10v10h-10zM1122 732h10v10h-10zM1172 742h10v10h-10zM1142 752h10v10h-10zM652 972h10v10h-10z"/>
<path fill="#0092ff" d="M32 382h10v10h-10zM162 422h10v10h-10zM172 452h10v10h-10zM262 462h10v10h-10zM232 472h10v10h-10zM262 482h10v10h-10zM382 522h10v10h-10zM842 632h10v10h-10zM912 672h30v10h-30zM932 682h10v10h-10zM982 682h10v10h-10zM1072 712h10v10h-10zM1062 732h10v10h-10zM1182 742h10v10h-10zM1132 752h10v10h-10zM642 812h10v10h-10zM642 822h10v10h-10zM642 832h10v10h-10zM642 842h20v10h-20zM642 852h20v10h-20zM642 862h10v10h-10zM642 872h10v10h-10zM642 882h10v10h-10zM652 992h10v10h-10zM652 1002h10v10h-10zM652 1052h10v10h-10zM652 1062h10v10h-10zM652 1072h10v10h-10zM652 1082h10v10h-10zM652 1092h10v10h-10zM652 1102h10v10h-10zM652 1112h10v10h-10zM652 1122h10v10h-10zM652 1132h10v10h-10zM652 1142h10v10h-10zM652 1152h10v10h-10z"/>
<path fill="#0096ff" d="M42 382h10v10h-10zM602 402h20v10h-20zM32 412h10v10h-10zM602 412h20v10h-20zM172 422h10v10h-10zM422 422h20v10h-20zM582 422h20v10h-20zM622 422h20v10h-20zM122 432h10v10h-10zM422 432h20v10h-20zM582 432h20v10h-20zM622 432h20v10h-20zM722 442h20v10h-20zM722 452h20v10h-20zM522 462h20v10h-20zM292 472h10v10h-10zM522 472h20v10h-20zM522 482h20v10h-20zM282 492h10v10h-10zM522 492h20v10h-20zM442 502h20v10h-20zM582 502h20v10h-20zM442 512h20v10h-20zM582 512h20v10h-20zM712 512h10v10h-10zM712 522h10v10h-10zM552 542h10v10h-10zM612 542h10v10h-10zM652 542h10v10h-10zM722 542h20v10h-20zM722 552h20v10h-20zM522 572h10v10h-10zM572 572h10v10h-10zM542 582h30v10h-30zM692 592h40v10h-40zM652 602h10v10h-10zM762 612h10v10h-10zM772 622h10v10h-10zM542 632h10v10h-10zM582 632h10v10h-10zM772 632h10v10h-10zM852 632h10v10h-10zM632 642h20v10h-20zM872 642h10v10h-10zM632 652h20v10h-20zM812 652h10v10h-10zM892 652h10v10h-10zM622 662h10v10h-10zM852 662h10v10h-10zM662 672h10v10h-10zM482 682h20v10h-20zM522 682h20v10h-20zM562 682h10v10h-10zM672 682h10v10h-10zM992 682h10v10h-10zM482 692h20v10h-20zM522 692h20v10h-20zM622 692h10v10h-10zM722 702h40v10h-40zM652 712h10v10h-10zM722 712h40v10h-40zM642 722h20v10h-20zM1032 722h10v10h-10zM642 732h20v10h-20zM422 742h20v10h-20zM642 742h20v10h-20zM682 742h40v10h-40zM422 752h20v10h-20zM642 752h20v10h-20zM682 752h40v10h-40zM482 762h20v10h-20zM1162 762h10v10h-10zM482 772h20v10h-20zM652 802h10v10h-10zM642 912h10v10h-10zM642 922h10v10h-10zM642 932h10v10h-10zM642 942h10v10h-10zM642 952h10v10h-10zM642 962h10v10h-10zM652 1022h10v10h-10zM662 1072h10v10h-10zM662 1082h10v10h-10zM662 1092h10v10h-10z"/>
<path fill="#0082ff" d="M2 392h10v10h-10zM32 392h10v10h-10zM42 402h20v10h-20zM172 442h10v10h-10zM222 452h10v10h-10zM232 462h10v10h-10zM602 492h30v10h-30zM352 502h20v10h-20zM602 502h10v10h-10zM392 512h10v10h-10zM462 522h20v10h-20zM462 532h20v10h-20zM612 532h10v10h-10zM482 542h40v10h-40zM622 542h10v10h-10zM532 552h40v10h-40zM512 562h10v10h-10zM642 592h30v10h-30zM722 602h10v10h-10zM692 612h20v10h-20zM742 612h20v10h-20zM582 622h10v10h-10zM732 622h10v10h-10zM752 622h10v10h-10zM782 622h20v10h-20zM612 632h10v10h-10zM782 632h20v10h-20zM622 652h10v10h-10zM632 672h10v10h-10zM632 682h10v10h-10z"/>
<path fill="#0080ff" d="M12 392h20v10h-20zM182 442h20v10h-20zM202 452h20v10h-20z"/>
<path fill="#0084ff" d="M42 392h10v10h-10zM32 402h10v10h-10zM62 402h10v10h-10zM152 432h30v10h-30zM202 442h10v10h-10zM192 452h10v10h-10zM222 462h10v10h-10zM242 462h10v10h-10zM322 492h20v10h-20zM342 502h10v10h-10zM372 502h10v10h-10zM382 512h10v10h-10zM802 632h10v10h-10zM822 642h20v10h-20z"/>
<path fill="#0088ff" d="M52 392h10v10h-10zM22 402h10v10h-10zM82 412h30v10h-30zM162 442h10v10h-10zM232 452h10v10h-10zM212 462h10v10h-10zM252 472h10v10h-10zM282 482h30v10h-30zM332 502h10v10h-10zM382 502h10v10h-10zM372 512h10v10h-10zM442 522h20v10h-20zM442 532h20v10h-20zM822 632h10v10h-10zM782 642h20v10h-20zM782 652h20v10h-20zM842 652h30v10h-30zM972 692h20v10h-20zM992 702h10v10h-10zM1012 702h10v10h-10zM1032 712h10v10h-10zM1062 722h20v10h-20zM1092 732h20v10h-20zM622 742h20v10h-20zM1132 742h30v10h-30zM622 752h20v10h-20zM1162 752h10v10h-10zM1192 762h10v10h-10z"/>
<path fill="#0094ff" d="M72 392h10v10h-10zM102 402h10v10h-10zM42 412h10v10h-10zM132 412h10v10h-10zM92 422h10v10h-10zM202 432h10v10h-10zM332 482h10v10h-10zM372 492h10v10h-10zM312 502h10v10h-10zM342 512h10v10h-10zM812 622h10v10h-10zM862 662h10v10h-10zM912 662h10v10h-10zM902 672h10v10h-10zM942 672h10v10h-10zM1022 692h10v10h-10zM972 702h10v10h-10zM1042 702h10v10h-10zM1002 712h10v10h-10zM1102 722h10v10h-10zM1142 732h10v10h-10zM1092 742h10v10h-10zM1192 742h10v10h-10zM652 812h10v10h-10zM652 822h10v10h-10zM652 832h10v10h-10zM642 892h10v10h-10zM642 902h10v10h-10zM652 1012h10v10h-10zM652 1032h10v10h-10zM652 1042h10v10h-10zM662 1102h10v10h-10zM662 1112h10v10h-10zM662 1122h10v10h-10zM662 1132h10v10h-10zM662 1142h10v10h-10zM662 1152h10v10h-10zM652 1162h20v10h-20zM652 1172h20v10h-20z"/>
<path fill="#0090ff" d="M2 402h10v10h-10zM52 412h10v10h-10zM122 412h10v10h-10zM102 422h10v10h-10zM132 432h10v10h-10zM152 442h10v10h-10zM222 442h10v10h-10zM242 452h10v10h-10zM202 462h10v10h-10zM282 472h10v10h-10zM322 482h10v10h-10zM482 482h40v10h-40zM292 492h10v10h-10zM482 492h40v10h-40zM352 512h10v10h-10zM402 522h20v10h-20zM522 522h20v10h-20zM402 532h20v10h-20zM522 532h20v10h-20zM502 622h20v10h-20zM502 632h20v10h-20zM862 642h10v10h-10zM822 652h10v10h-10zM882 652h10v10h-10zM872 662h10v10h-10zM902 662h10v10h-10zM682 682h20v10h-20zM972 682h10v10h-10zM682 692h20v10h-20zM952 692h10v10h-10zM1012 692h10v10h-10zM682 702h20v10h-20zM682 712h20v10h-20zM1042 722h10v10h-10zM1092 722h10v10h-10zM1132 732h10v10h-10zM1102 742h10v10h-10zM1172 762h10v10h-10zM642 802h10v10h-10zM652 862h10v10h-10zM652 872h10v10h-10zM652 882h10v10h-10zM652 892h10v10h-10zM652 902h10v10h-10zM652 912h10v10h-10zM652 922h10v10h-10zM652 932h10v10h-10zM652 942h10v10h-10zM652 952h10v10h-10zM652 962h10v10h-10zM652 982h10v10h-10z"/>
<path fill="#008cff" d="M12 402h10v10h-10zM62 412h10v10h-10zM112 412h10v10h-10zM112 422h20v10h-20zM152 422h10v10h-10zM602 422h20v10h-20zM602 432h20v10h-20zM242 472h10v10h-10zM272 472h10v10h-10zM272 482h10v10h-10zM312 482h10v10h-10zM632 492h10v10h-10zM392 502h50v10h-50zM402 512h40v10h-40zM632 512h10v10h-10zM392 522h10v10h-10zM522 542h30v10h-30zM482 552h30v10h-30zM672 592h20v10h-20zM662 602h20v10h-20zM702 622h10v10h-10zM622 642h10v10h-10zM802 642h10v10h-10zM602 652h10v10h-10zM832 652h10v10h-10zM872 652h10v10h-10zM942 682h30v10h-30zM962 692h10v10h-10zM1002 692h10v10h-10zM622 712h30v10h-30zM1022 712h10v10h-10zM1052 712h10v10h-10zM622 722h20v10h-20zM1052 722h10v10h-10zM622 732h20v10h-20zM1072 732h10v10h-10zM1112 742h10v10h-10zM1182 762h10v10h-10z"/>
<path fill="#00b8ff" d="M542 422h20v10h-20zM542 432h20v10h-20zM52 442h10v10h-10zM62 452h10v10h-10zM102 452h10v10h-10zM92 462h40v10h-40zM212 492h20v10h-20zM232 502h20v10h-20zM502 502h20v10h-20zM542 502h20v10h-20zM502 512h20v10h-20zM542 512h20v10h-20zM352 542h30v10h-30zM362 552h10v10h-10zM382 562h10v10h-10zM422 562h20v10h-20zM462 562h20v10h-20zM422 572h20v10h-20zM462 572h20v10h-20zM722 642h20v10h-20zM722 652h20v10h-20zM722 662h20v10h-20zM722 672h20v10h-20zM822 682h40v10h-40zM912 692h10v10h-10zM852 702h10v10h-10zM502 722h20v10h-20zM502 732h20v10h-20zM942 732h10v10h-10zM1012 732h10v10h-10zM562 742h40v10h-40zM972 742h10v10h-10zM562 752h40v10h-40zM582 762h20v10h-20zM1032 762h10v10h-10zM1082 762h10v10h-10zM582 772h20v10h-20zM1082 772h30v10h-30zM1102 782h10v10h-10zM1152 782h20v10h-20zM1122 792h10v10h-10zM592 802h10v10h-10zM1192 812h10v10h-10z"/>
<path fill="#00b6ff" d="M42 442h10v10h-10zM82 442h10v10h-10zM52 452h10v10h-10zM112 452h10v10h-10zM82 462h10v10h-10zM202 492h10v10h-10zM232 492h10v10h-10zM222 502h10v10h-10zM252 502h10v10h-10zM342 542h10v10h-10zM352 552h10v10h-10zM802 672h10v10h-10zM862 682h20v10h-20zM822 692h10v10h-10zM932 702h10v10h-10zM872 712h10v10h-10zM952 712h10v10h-10zM982 722h10v10h-10zM932 732h10v10h-10zM992 752h10v10h-10zM1062 752h10v10h-10zM1022 762h10v10h-10zM1072 772h10v10h-10zM1112 772h10v10h-10zM1152 802h10v10h-10zM592 812h10v10h-10zM1182 812h10v10h-10zM592 822h10v10h-10zM592 832h20v10h-20zM592 842h20v10h-20zM592 852h20v10h-20zM592 862h20v10h-20zM602 872h10v10h-10zM602 882h10v10h-10zM602 892h10v10h-10zM602 902h10v10h-10zM602 912h10v10h-10zM602 922h20v10h-20zM602 932h20v10h-20zM602 942h20v10h-20zM612 1002h10v10h-10zM612 1012h10v10h-10zM612 1022h10v10h-10z"/>
<path fill="#00baff" d="M62 442h20v10h-20zM92 452h10v10h-10zM372 552h30v10h-30zM392 562h10v10h-10zM802 682h20v10h-20zM832 692h10v10h-10zM902 722h10v10h-10zM972 722h10v10h-10zM1032 742h10v10h-10zM1002 752h10v10h-10zM1052 752h10v10h-10zM1042 762h10v10h-10zM1072 762h10v10h-10zM1112 782h40v10h-40zM1132 792h10v10h-10zM1162 802h10v10h-10z"/>
<path fill="#00bcff" d="M72 452h20v10h-20zM842 692h10v10h-10zM862 702h10v10h-10zM942 712h10v10h-10zM962 722h10v10h-10zM952 732h10v10h-10zM1002 732h10v10h-10zM982 742h10v10h-10zM1052 762h20v10h-20zM1142 792h20v10h-20zM1192 792h10v10h-10zM1172 802h10v10h-10z"/>
<path fill="#00beff" d="M562 462h20v10h-20zM562 472h20v10h-20zM562 482h20v10h-20zM562 492h20v10h-20zM702 492h20v10h-20zM672 552h50v10h-50zM402 562h20v10h-20zM692 562h20v10h-20zM402 572h20v10h-20zM502 572h20v10h-20zM682 572h10v10h-10zM462 582h20v10h-20zM462 592h20v10h-20zM482 602h30v10h-30zM482 612h50v10h-50zM632 612h30v10h-30zM622 622h10v10h-10zM662 632h10v10h-10zM542 642h20v10h-20zM592 642h10v10h-10zM702 642h20v10h-20zM542 652h40v10h-40zM662 652h20v10h-20zM702 652h20v10h-20zM582 662h20v10h-20zM642 682h20v10h-20zM852 692h20v10h-20zM912 722h10v10h-10zM952 722h10v10h-10zM962 732h40v10h-40zM992 742h10v10h-10zM1012 752h10v10h-10zM1042 752h10v10h-10zM1162 792h30v10h-30zM1182 802h20v10h-20z"/>
<path fill="#00a5ff" d="M632 482h70v10h-70zM642 502h10v10h-10zM672 512h40v10h-40zM582 562h10v10h-10zM662 582h30v10h-30zM752 582h20v10h-20zM732 592h10v10h-10zM762 592h10v10h-10zM752 602h20v10h-20zM562 672h20v10h-20zM672 672h10v10h-10zM582 682h10v10h-10zM662 682h10v10h-10zM612 692h10v10h-10zM672 692h10v10h-10zM652 702h10v10h-10z"/>
<path fill="#00afff" d="M702 482h20v10h-20zM642 492h30v10h-30zM652 512h20v10h-20zM602 532h10v10h-10zM662 542h60v10h-60zM692 572h80v10h-80zM652 582h10v10h-10zM742 582h10v10h-10zM742 602h10v10h-10zM622 632h20v10h-20zM742 632h10v10h-10zM632 662h10v10h-10zM652 662h30v10h-30zM592 672h10v10h-10zM642 672h10v10h-10zM592 682h10v10h-10zM582 692h20v10h-20zM652 692h20v10h-20zM562 702h20v10h-20zM662 702h20v10h-20zM602 712h10v10h-10zM672 712h10v10h-10z"/>
<path fill="#006eff" d="M612 502h20v10h-20zM612 512h10v10h-10zM612 522h10v10h-10zM632 522h10v10h-10zM562 562h10v10h-10zM562 572h10v10h-10zM712 612h20v10h-20zM562 622h10v10h-10zM622 672h10v10h-10zM622 682h10v10h-10zM632 702h20v10h-20z"/>
<path fill="#0091ff" d="M632 502h10v10h-10zM602 522h10v10h-10z"/>
<path fill="#009bff" d="M602 512h10v10h-10zM612 662h10v10h-10zM622 702h10v10h-10z"/>
<path fill="#005aff" d="M622 512h10v10h-10zM512 552h20v10h-20zM572 562h10v10h-10zM532 572h20v10h-20zM592 622h10v10h-10z"/>
<path fill="#007cff" d="M422 522h20v10h-20zM422 532h20v10h-20z"/>
<path fill="#005fff" d="M622 522h10v10h-10z"/>
<path fill="#0078ff" d="M622 532h10v10h-10zM642 532h10v10h-10zM682 602h40v10h-40zM532 612h10v10h-10zM732 612h10v10h-10zM572 622h10v10h-10zM712 622h20v10h-20z"/>
<path fill="#0064ff" d="M632 532h10v10h-10zM552 562h10v10h-10zM552 572h10v10h-10zM592 632h10v10h-10z"/>
<path fill="#0087ff" d="M682 532h20v10h-20z"/>
<path fill="#00e6f6" d="M582 542h20v10h-20z"/>
<path fill="#00d2ff" d="M602 542h10v10h-10zM482 592h90v10h-90zM552 602h20v10h-20zM582 612h10v10h-10zM642 622h20v10h-20zM662 642h10v10h-10zM562 712h20v10h-20z"/>
<path fill="#007dff" d="M632 542h20v10h-20zM742 622h10v10h-10z"/>
<path fill="#00d7ff" d="M582 552h10v10h-10z"/>
<path fill="#00ebff" d="M592 552h10v10h-10z"/>
<path fill="#00e6ff" d="M602 552h10v10h-10zM672 572h10v10h-10zM602 612h20v10h-20zM582 642h10v10h-10z"/>
<path fill="#00c3ff" d="M662 552h10v10h-10zM652 632h10v10h-10zM592 712h10v10h-10z"/>
<path fill="#0046ff" d="M522 562h30v10h-30z"/>
<path fill="#00ffff" d="M592 562h10v10h-10zM592 572h10v10h-10zM632 572h40v10h-40z"/>
<path fill="#32ffe6" d="M602 562h10v10h-10z"/>
<path fill="#1effef" d="M612 562h50v10h-50z"/>
<path fill="#00faff" d="M662 562h20v10h-20zM632 582h10v10h-10zM572 602h10v10h-10zM622 602h10v10h-10z"/>
<path fill="#00e1ff" d="M682 562h10v10h-10zM582 652h10v10h-10z"/>
<path fill="#00dcff" d="M482 572h20v10h-20zM482 582h50v10h-50zM632 592h10v10h-10z"/>
<path fill="#00c8ff" d="M582 572h10v10h-10zM532 582h10v10h-10zM642 582h10v10h-10zM632 602h10v10h-10zM622 612h10v10h-10zM612 622h10v10h-10zM632 622h10v10h-10zM662 622h20v10h-20zM552 632h30v10h-30zM562 642h20v10h-20zM672 642h10v10h-10zM592 652h10v10h-10zM582 712h10v10h-10zM892 712h10v10h-10zM922 712h10v10h-10z"/>
<path fill="#96ff78" d="M602 572h10v10h-10z"/>
<path fill="#82ff82" d="M612 572h10v10h-10zM622 582h10v10h-10z"/>
<path fill="#3cffc8" d="M622 572h10v10h-10z"/>
<path fill="#00f0ff" d="M572 582h10v10h-10zM512 602h40v10h-40zM592 612h10v10h-10z"/>
<path fill="#dcff50" d="M582 582h10v10h-10z"/>
<path fill="#ffa000" d="M592 582h10v10h-10zM612 592h10v10h-10z"/>
<path fill="#ff9600" d="M602 582h10v10h-10z"/>
<path fill="#ffff00" d="M612 582h10v10h-10zM612 602h10v10h-10z"/>
<path fill="#00f5ff" d="M572 592h10v10h-10z"/>
<path fill="#ffb400" d="M582 592h10v10h-10z"/>
<path fill="#c80000" d="M592 592h20v10h-20z"/>
<path fill="#64ff96" d="M622 592h10v10h-10z"/>
<path fill="#ffff50" d="M582 602h10v10h-10z"/>
<path fill="#ff8200" d="M592 602h10v10h-10z"/>
<path fill="#ff7800" d="M602 602h10v10h-10z"/>
<path fill="#003cff" d="M542 612h10v10h-10zM602 642h10v10h-10zM612 652h10v10h-10z"/>
<path fill="#0000ff" d="M552 612h10v10h-10z"/>
<path fill="#0014ff" d="M562 612h10v10h-10z"/>
<path fill="#0050ff" d="M572 612h10v10h-10zM522 622h10v10h-10zM522 632h10v10h-10z"/>
<path fill="#0028ff" d="M532 622h10v10h-10zM602 632h10v10h-10zM612 642h10v10h-10z"/>
<path fill="#0000c8" d="M542 622h10v10h-10z"/>
<path fill="#0032ff" d="M552 622h10v10h-10z"/>
<path fill="#00c4ff" d="M682 642h20v10h-20zM682 652h20v10h-20z"/>
<path fill="#00c2ff" d="M872 692h30v10h-30zM872 702h10v10h-10zM922 702h10v10h-10zM932 712h10v10h-10z"/>
<path fill="#00c0ff" d="M902 692h10v10h-10zM882 712h10v10h-10zM922 722h30v10h-30zM1002 742h30v10h-30zM1022 752h20v10h-20z"/>
<path fill="#00caff" d="M882 702h10v10h-10zM912 702h10v10h-10z"/>
<path fill="#00d0ff" d="M892 702h20v10h-20z"/>
<path fill="#00ceff" d="M902 712h10v10h-10z"/>
<path fill="#00ccff" d="M912 712h10v10h-10z"/>
</g></svg>
<div class="g" style="left:171px;top:0;width:1px;height:1204px;"></div>
<div class="g" style="left:471px;top:0;width:1px;height:1204px;"></div>
<div class="g" style="left:771px;top:0;width:1px;height:1204px;"></div>
<div class="g" style="left:1071px;top:0;width:1px;height:1204px;"></div>
<div class="g" style="left:0;top:18px;width:1204px;height:1px;"></div>
<div class="g" style="left:0;top:318px;width:1204px;height:1px;"></div>
<div class="g" style="left:0;top:618px;width:1204px;height:1px;"></div>
<div class="g" style="left:0;top:918px;width:1204px;height:1px;"></div>
</div>
<div style="position:absolute;left:767px;top:1px;width:1px;height:108px;background:rgb(82,200,84);"></div>
<div style="position:absolute;left:767px;top:109px;width:1px;height:3px;background:rgb(60,180,190);"></div>
<div style="position:absolute;left:767px;top:112px;width:1px;height:1204px;background:rgb(18,218,142);"></div>
<div style="position:absolute;left:767px;top:1316px;width:1px;height:3px;background:rgb(60,180,190);"></div>
<div style="position:absolute;left:767px;top:1319px;width:1px;height:99px;background:rgb(82,200,84);"></div>
<div style="position:absolute;left:1px;top:709px;width:164px;height:1px;background:rgb(82,200,84);"></div>
<div style="position:absolute;left:165px;top:709px;width:3px;height:1px;background:rgb(60,180,190);"></div>
<div style="position:absolute;left:168px;top:709px;width:1204px;height:1px;background:rgb(18,218,142);"></div>
<div style="position:absolute;left:1372px;top:709px;width:3px;height:1px;background:rgb(60,180,190);"></div>
<div style="position:absolute;left:1375px;top:709px;width:161px;height:1px;background:rgb(82,200,84);"></div>
<div class="t" style="left:589.25px;top:52.8px;font-size:44.0px;color:#0000ee;transform:scaleX(0.9151);">RFC</div>
<div class="t" style="left:686.0px;top:52.8px;font-size:44.0px;color:#0000ee;transform:scaleX(1.0826);">J0749+4452</div>
<div class="t" style="left:326.88px;top:1330.1px;font-size:28.7px;color:#000;transform:scaleX(1.0108);">1.0</div>
<div class="t" style="left:625.86px;top:1330.1px;font-size:28.7px;color:#000;transform:scaleX(1.0395);">0.5</div>
<div class="t" style="left:925.96px;top:1330.1px;font-size:28.7px;color:#000;transform:scaleX(1.0421);">0.0</div>
<div class="t" style="left:1216.88px;top:1330.1px;font-size:28.7px;color:#000;transform:scaleX(1.0208);">-0.5</div>
<div class="t" style="left:309.68px;top:1359.9px;font-size:32.2px;color:#000;transform:scaleX(1.1111);">Right ascension</div>
<div class="t" style="left:584.68px;top:1359.9px;font-size:32.2px;color:#000;transform:scaleX(1.1175);">07:49:16.886583</div>
<div class="t" style="left:1096.21px;top:1359.8px;font-size:32.2px;color:#000;transform:scaleX(1.1474);">(arcmin)</div>
<div class="t" style="left:152.69px;top:1464.0px;font-size:28.6px;color:#000;transform:scaleX(1.0553);">-0.0013</div>
<div class="t" style="left:412.96px;top:1464.0px;font-size:28.6px;color:#000;transform:scaleX(1.043);">0.0000</div>
<div class="t" style="left:719.43px;top:1464.0px;font-size:28.6px;color:#000;transform:scaleX(1.0729);">0.0039</div>
<div class="t" style="left:1026.95px;top:1464.0px;font-size:28.6px;color:#000;transform:scaleX(1.0512);">0.0104</div>
<div class="t" style="left:1288.65px;top:1464.0px;font-size:28.6px;color:#000;transform:scaleX(1.0494);">0.0195</div>
<div class="t" style="left:123.0px;top:141.9px;font-size:28.6px;color:#000;transform:rotate(-90deg) scaleX(1.0);">1.0</div>
<div class="t" style="left:123.0px;top:441.59px;font-size:28.6px;color:#000;transform:rotate(-90deg) scaleX(0.9895);">0.5</div>
<div class="t" style="left:123.0px;top:741.69px;font-size:28.6px;color:#000;transform:rotate(-90deg) scaleX(0.9921);">0.0</div>
<div class="t" style="left:123.0px;top:1051.73px;font-size:28.6px;color:#000;transform:rotate(-90deg) scaleX(1.034);">-0.5</div>
<div class="t" style="left:88.9px;top:419.07px;font-size:32.2px;color:#000;transform:rotate(-90deg) scaleX(1.1368);">(arcmin)</div>
<div class="t" style="left:89.0px;top:1141.2px;font-size:32.2px;color:#000;transform:rotate(-90deg) scaleX(1.1477);">Declination</div>
<div class="t" style="left:89.0px;top:936.73px;font-size:32.2px;color:#000;transform:rotate(-90deg) scaleX(1.134);">+44:52:31.98403</div>
<div style="position:absolute;left:153px;top:1422px;width:1227px;height:30px;border:1px solid #000;background:linear-gradient(to right, rgb(0,0,150) 0%, rgb(0,0,255) 7%, rgb(0,128,255) 20%, rgb(0,255,255) 33%, rgb(40,255,240) 37.8%, rgb(70,255,230) 41.4%, rgb(100,255,200) 45%, rgb(130,255,170) 48.6%, rgb(150,255,140) 51%, rgb(210,255,90) 58%, rgb(255,255,0) 66.6%, rgb(255,165,0) 77%, rgb(255,90,0) 85%, rgb(255,0,0) 93.5%, rgb(180,0,0) 100%);"></div>
<div style="position:absolute;left:153px;top:1453px;width:1px;height:4px;background:#000;"></div>
<div style="position:absolute;left:460px;top:1453px;width:1px;height:4px;background:#000;"></div>
<div style="position:absolute;left:767px;top:1453px;width:1px;height:4px;background:#000;"></div>
<div style="position:absolute;left:1074px;top:1453px;width:1px;height:4px;background:#000;"></div>
<div style="position:absolute;left:1380px;top:1453px;width:1px;height:4px;background:#000;"></div>
</body></html>
